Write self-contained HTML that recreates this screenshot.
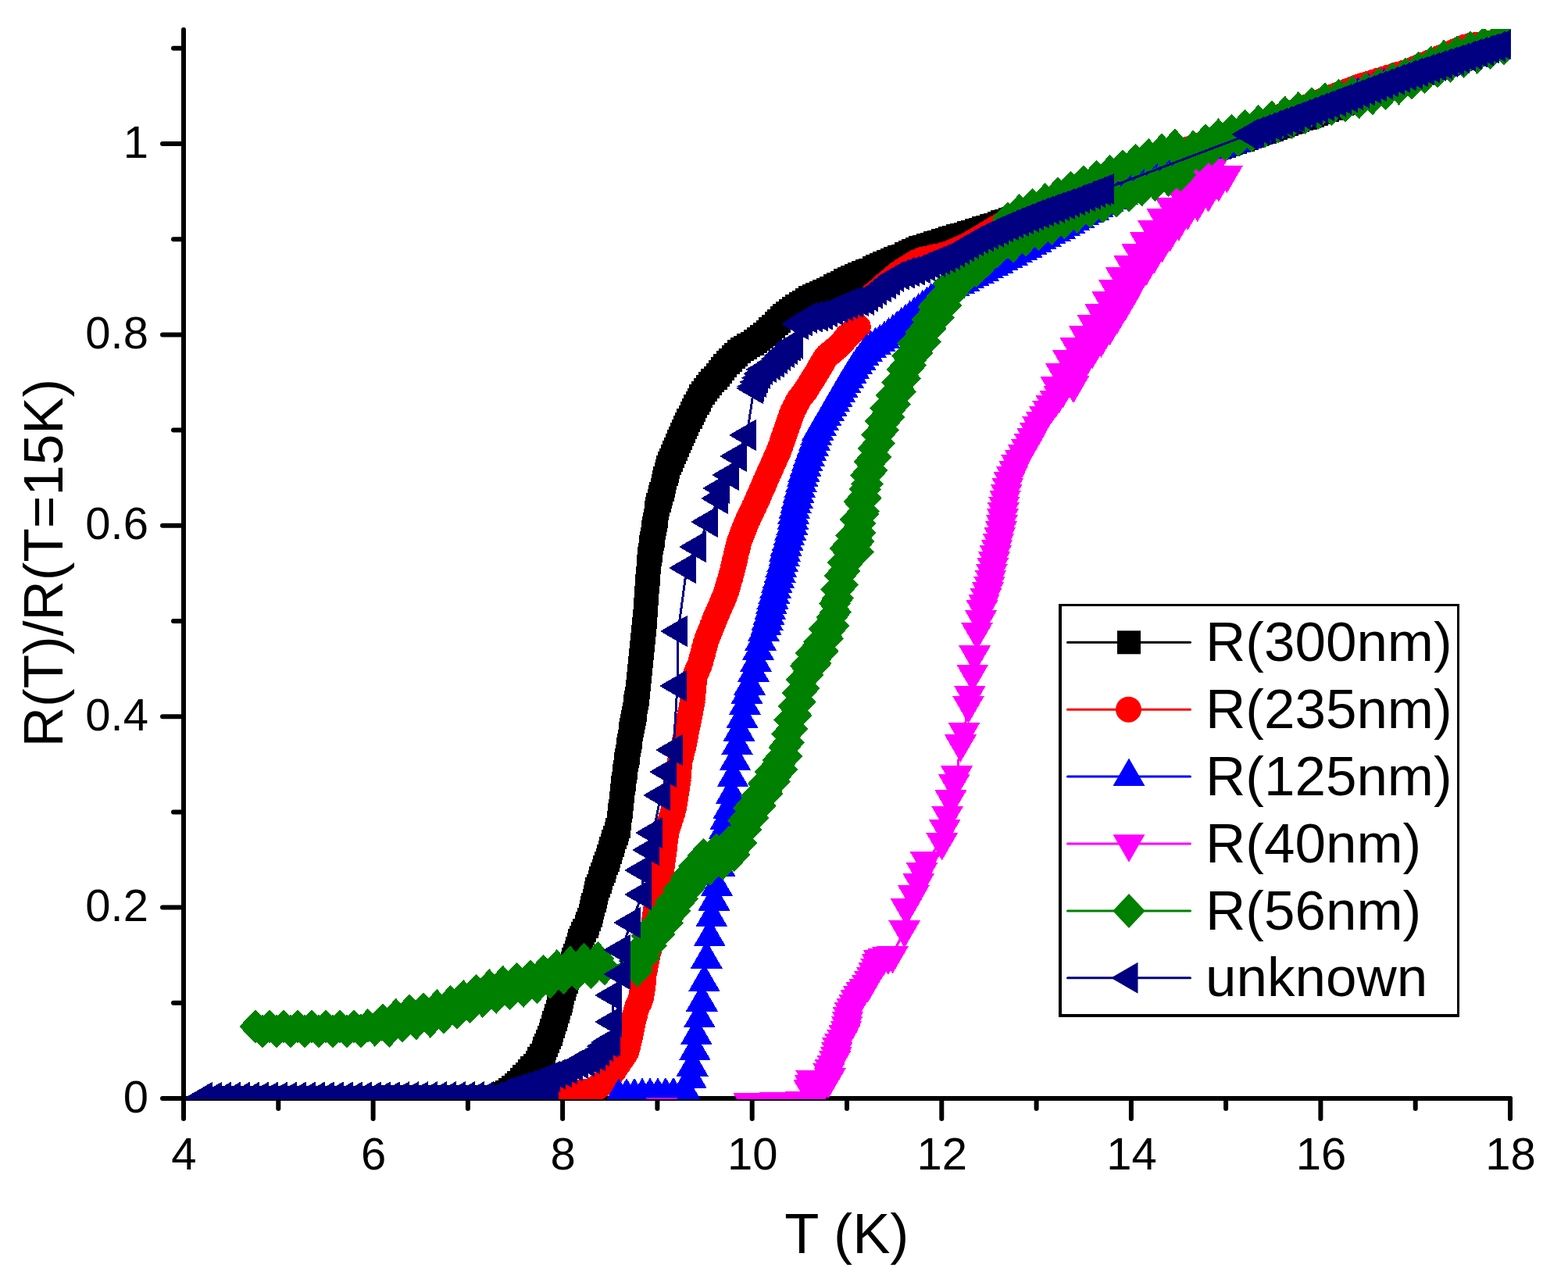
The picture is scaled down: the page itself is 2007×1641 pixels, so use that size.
<!DOCTYPE html><html><head><meta charset="utf-8"><title>R(T)/R(T=15K) vs T</title><style>html,body{margin:0;padding:0;background:#fff;}svg{display:block;}text{font-family:"Liberation Sans",Arial,sans-serif;}</style></head><body>
<svg width="2007" height="1641" viewBox="0 0 2007 1641">
<rect width="2007" height="1641" fill="#fff"/>
<defs><clipPath id="pc"><rect x="235" y="37" width="1698.8" height="1370"/></clipPath></defs>
<g stroke="#000" stroke-width="6" stroke-linecap="round" fill="none">
<line x1="235" y1="38" x2="235" y2="1406"/>
<line x1="235" y1="1406" x2="1933" y2="1406"/>
<line x1="208" y1="1406" x2="235" y2="1406"/>
<line x1="222" y1="1283.8" x2="235" y2="1283.8"/>
<line x1="208" y1="1161.6" x2="235" y2="1161.6"/>
<line x1="222" y1="1039.4" x2="235" y2="1039.4"/>
<line x1="208" y1="917.2" x2="235" y2="917.2"/>
<line x1="222" y1="795" x2="235" y2="795"/>
<line x1="208" y1="672.8" x2="235" y2="672.8"/>
<line x1="222" y1="550.6" x2="235" y2="550.6"/>
<line x1="208" y1="428.4" x2="235" y2="428.4"/>
<line x1="222" y1="306.2" x2="235" y2="306.2"/>
<line x1="208" y1="184" x2="235" y2="184"/>
<line x1="222" y1="61.8" x2="235" y2="61.8"/>
<line x1="235" y1="1406" x2="235" y2="1432"/>
<line x1="356.3" y1="1406" x2="356.3" y2="1419"/>
<line x1="477.6" y1="1406" x2="477.6" y2="1432"/>
<line x1="598.9" y1="1406" x2="598.9" y2="1419"/>
<line x1="720.1" y1="1406" x2="720.1" y2="1432"/>
<line x1="841.4" y1="1406" x2="841.4" y2="1419"/>
<line x1="962.7" y1="1406" x2="962.7" y2="1432"/>
<line x1="1084" y1="1406" x2="1084" y2="1419"/>
<line x1="1205.3" y1="1406" x2="1205.3" y2="1432"/>
<line x1="1326.6" y1="1406" x2="1326.6" y2="1419"/>
<line x1="1447.9" y1="1406" x2="1447.9" y2="1432"/>
<line x1="1569.1" y1="1406" x2="1569.1" y2="1419"/>
<line x1="1690.4" y1="1406" x2="1690.4" y2="1432"/>
<line x1="1811.7" y1="1406" x2="1811.7" y2="1419"/>
<line x1="1933" y1="1406" x2="1933" y2="1432"/>
</g>
<g clip-path="url(#pc)" shape-rendering="crispEdges">
<path d="M290 1405 L302 1405 L314 1404.9 L326 1404.9 L338 1404.9 L350 1404.8 L362 1404.8 L374 1404.8 L386 1404.7 L398 1404.7 L410 1404.7 L422 1404.6 L434 1404.6 L446 1404.6 L458 1404.5 L470 1404.5 L482 1404.5 L494 1404.4 L506 1404.4 L518 1404.3 L530 1404.3 L542 1404.3 L554 1404.2 L566 1404.2 L578 1404.2 L590 1404.1 L602 1404.1 L614 1404.1 L626 1404 L638 1404 L640 1403 L644.3 1400.4 L648.6 1397.9 L652.9 1395.3 L656.8 1392.3 L660.5 1388.9 L664.2 1385.5 L667.8 1382.1 L671.2 1378.4 L674.6 1374.7 L677.9 1371 L681.3 1367.3 L684.6 1363.6 L687.5 1359.5 L690.2 1355.3 L692.9 1351.1 L695.5 1346.8 L697.4 1342.2 L699.3 1337.6 L701.2 1332.9 L703.1 1328.3 L704.7 1323.6 L706.2 1318.8 L707.7 1314 L709.2 1309.3 L710.7 1304.5 L712.1 1299.7 L713.6 1294.9 L715.1 1290.2 L716.6 1285.4 L717.9 1280.6 L719.2 1275.7 L720.4 1270.9 L721.7 1266.1 L723.2 1261.3 L724.8 1256.6 L726.4 1251.8 L728 1247.1 L729.6 1242.3 L731.1 1237.6 L732.7 1232.8 L734.3 1228.1 L735.9 1223.3 L737.5 1218.6 L739 1213.9 L740.6 1209.1 L742.3 1204.4 L744.3 1199.8 L746.4 1195.3 L748.4 1190.7 L750.5 1186.2 L752.3 1181.5 L753.9 1176.8 L755.6 1172.1 L756.9 1167.3 L758.1 1162.4 L759.4 1157.6 L760.6 1152.7 L761.8 1147.9 L763 1143 L764.3 1138.2 L766 1133.5 L767.7 1128.8 L769.4 1124.1 L771.1 1119.4 L772.7 1114.6 L774.4 1109.9 L776.1 1105.2 L777.8 1100.5 L779.3 1095.8 L780.9 1091 L782.4 1086.2 L783.9 1081.5 L785.4 1076.7 L786.9 1072 L788.5 1067.2 L790 1062.4 L791.5 1057.7 L792.2 1052.7 L792.8 1047.8 L793.4 1042.8 L793.9 1037.8 L794.5 1032.9 L795.1 1027.9 L795.7 1022.9 L796.2 1018 L796.8 1013 L797.4 1008 L798 1003.1 L798.6 998.1 L799.3 993.1 L800 988.2 L800.7 983.2 L801.4 978.3 L802.2 973.3 L802.9 968.4 L803.6 963.5 L804.3 958.5 L805 953.6 L805.7 948.6 L806.5 943.7 L807.2 938.7 L808.1 933.8 L809 928.9 L809.9 924 L810.7 919 L811.6 914.1 L812.5 909.2 L813.4 904.3 L814.2 899.3 L815.1 894.4 L815.6 889.4 L816.1 884.5 L816.6 879.5 L817.1 874.5 L817.6 869.5 L818.1 864.6 L818.6 859.6 L819.1 854.6 L819.6 849.6 L820.1 844.7 L820.6 839.7 L821.2 834.7 L821.7 829.7 L822.2 824.8 L822.7 819.8 L823.2 814.8 L823.7 809.8 L824.2 804.9 L824.7 799.9 L825.2 794.9 L825.5 789.9 L825.9 784.9 L826.2 780 L826.6 775 L827 770 L827.3 765 L827.7 760 L828.1 755 L828.4 750 L828.8 745.1 L829.2 740.1 L829.5 735.1 L829.9 730.1 L830.3 725.1 L830.6 720.1 L831 715.1 L831.8 710.2 L832.5 705.3 L833.3 700.3 L834.1 695.4 L834.8 690.4 L835.6 685.5 L836.4 680.6 L837.2 675.6 L837.9 670.7 L838.7 665.7 L839.5 660.8 L840.2 655.9 L841 650.9 L842.3 646.1 L843.6 641.3 L844.9 636.4 L846.2 631.6 L847.5 626.8 L848.8 621.9 L850.1 617.1 L851.4 612.3 L852.7 607.4 L854 602.6 L855.3 597.8 L856.8 593.1 L858.8 588.5 L860.7 583.8 L862.7 579.2 L864.7 574.6 L866.6 570 L868.6 565.4 L870.5 560.8 L872.5 556.2 L874.6 551.7 L876.9 547.3 L879.1 542.8 L881.3 538.3 L883.6 533.8 L885.8 529.4 L888.1 524.9 L890.3 520.4 L892.5 516 L894.8 511.5 L897 507 L899.7 502.9 L902.9 499 L906.1 495.1 L909.3 491.3 L912.4 487.4 L915.6 483.5 L918.8 479.7 L921.9 475.8 L925.1 471.9 L928.3 468.1 L931.6 464.4 L935.2 460.8 L938.7 457.3 L942.2 453.8 L945.8 450.2 L949.6 447.1 L953.9 444.5 L958.2 442 L962.5 439.5 L966.7 436.7 L970.7 433.7 L974.6 430.6 L978.6 427.6 L982.5 424.5 L986.2 421.1 L989.8 417.7 L993.5 414.3 L997.1 410.8 L1000.8 407.4 L1004.4 404 L1008.4 400.9 L1012.4 397.9 L1016.4 394.9 L1020.3 391.9 L1024.5 389.2 L1028.7 386.5 L1033 383.8 L1037.2 381.1 L1041.5 378.7 L1046.1 376.7 L1050.7 374.8 L1055.3 372.8 L1059.9 370.8 L1064.3 368.5 L1068.8 366.2 L1073.2 363.8 L1077.6 361.5 L1082 359.2 L1086.6 357.2 L1091.2 355.3 L1095.8 353.3 L1100.4 351.3 L1105 349.4 L1109.6 347.4 L1114.2 345.5 L1118.8 343.4 L1123.3 341.3 L1127.9 339.2 L1132.4 337.1 L1137 335 L1141.6 333.1 L1146.2 331.3 L1150.9 329.4 L1155.5 327.5 L1160 325.3 L1164.5 323.1 L1169 320.9 L1173.5 318.7 L1178.2 317 L1182.9 315.6 L1187.7 314.1 L1192.5 312.6 L1197.3 311.2 L1202.1 309.7 L1206.8 308.3 L1211.6 306.8 L1216.4 305.3 L1221.2 303.9 L1226 302.4 L1230.7 300.9 L1235.5 299.5 L1240.3 298 L1245.1 296.5 L1249.9 295.1 L1254.7 293.6 L1259.4 292.2 L1264.2 290.7 L1269 289.2 L1273.8 287.7 L1278.5 286.1 L1283.2 284.4 L1287.9 282.8 L1292.6 281.1 L1297.4 279.5 L1302.1 277.8 L1306.8 276.2 L1311.5 274.5 L1316.2 272.9 L1321 271.2 L1325.7 269.5 L1330.4 267.9 L1335.1 266.2 L1339.8 264.6 L1344.6 262.9 L1349.3 261.3 L1354 259.6 L1358.7 258 L1363.4 256.3 L1368.1 254.7 L1372.9 253 L1377.6 251.4 L1382.3 249.7 L1387 248.1 L1391.7 246.4 L1396.5 244.8 L1401.2 243.1 L1405.9 241.4 L1410.6 239.8 L1415.3 238.1 L1420.1 236.5 L1424.8 234.8 L1429.5 233.2 L1434.2 231.5 L1438.9 229.9 L1443.6 228.2 L1448.4 226.6 L1453.1 225 L1457.8 223.4 L1462.6 221.7 L1467.3 220.1 L1472 218.5 L1476.8 216.9 L1481.5 215.3 L1486.3 213.7 L1491 212.1 L1495.7 210.5 L1500.5 208.9 L1505.2 207.3 L1509.9 205.7 L1514.7 204.1 L1519.4 202.5 L1524.1 200.9 L1528.9 199.3 L1533.6 197.7 L1538.4 196.1 L1543.1 194.5 L1547.8 192.9 L1552.6 191.3 L1557.3 189.7 L1562 188.1 L1566.8 186.5 L1571.5 184.9 L1576.2 183.3 L1581 181.7 L1585.7 180.1 L1590.5 178.5 L1595.2 176.9 L1599.9 175.2 L1604.6 173.6 L1609.4 172 L1614.1 170.3 L1618.8 168.7 L1623.5 167.1 L1628.3 165.5 L1633 163.8 L1637.7 162.2 L1642.4 160.6 L1647.2 158.9 L1651.9 157.3 L1656.6 155.7 L1661.4 154 L1666.1 152.4 L1670.8 150.8 L1675.5 149.1 L1680.3 147.5 L1685 145.9 L1689.7 144.2 L1694.4 142.4 L1699 140.6 L1703.7 138.8 L1708.3 136.9 L1713 135.1 L1717.6 133.3 L1722.3 131.5 L1726.9 129.6 L1731.6 127.8 L1736.3 126 L1740.9 124.2 L1745.6 122.3 L1750.2 120.5 L1754.9 118.7 L1759.5 116.9 L1764.2 115 L1768.8 113.2 L1773.5 111.4 L1778.2 109.6 L1782.8 107.7 L1787.5 105.9 L1792.1 104.1 L1796.8 102.3 L1801.4 100.5 L1806.1 98.7 L1810.8 97 L1815.5 95.3 L1820.2 93.6 L1824.9 91.8 L1829.6 90.1 L1834.3 88.4 L1839 86.6 L1843.7 84.9 L1848.4 83.2 L1853 81.5 L1857.7 79.7 L1862.4 78 L1867.1 76.3 L1871.8 74.5 L1876.5 72.8 L1881.2 71.1 L1885.9 69.4 L1890.6 67.6 L1895.3 65.9 L1900 64.2 L1904.7 62.4 L1909.3 60.7 L1914 59 L1918.7 57.3 L1923.4 55.5 L1928.1 53.8 L1932.8 52.1" fill="none" stroke="#000000" stroke-width="3" stroke-linejoin="round"/>
<path fill="#000000" d="M275 1390h30v30h-30zM287 1390h30v30h-30zM299 1389.9h30v30h-30zM311 1389.9h30v30h-30zM323 1389.9h30v30h-30zM335 1389.8h30v30h-30zM347 1389.8h30v30h-30zM359 1389.8h30v30h-30zM371 1389.7h30v30h-30zM383 1389.7h30v30h-30zM395 1389.7h30v30h-30zM407 1389.6h30v30h-30zM419 1389.6h30v30h-30zM431 1389.6h30v30h-30zM443 1389.5h30v30h-30zM455 1389.5h30v30h-30zM467 1389.5h30v30h-30zM479 1389.4h30v30h-30zM491 1389.4h30v30h-30zM503 1389.3h30v30h-30zM515 1389.3h30v30h-30zM527 1389.3h30v30h-30zM539 1389.2h30v30h-30zM551 1389.2h30v30h-30zM563 1389.2h30v30h-30zM575 1389.1h30v30h-30zM587 1389.1h30v30h-30zM599 1389.1h30v30h-30zM611 1389h30v30h-30zM623 1389h30v30h-30zM625 1388h30v30h-30zM629.3 1385.4h30v30h-30zM633.6 1382.9h30v30h-30zM637.9 1380.3h30v30h-30zM641.8 1377.3h30v30h-30zM645.5 1373.9h30v30h-30zM649.2 1370.5h30v30h-30zM652.8 1367.1h30v30h-30zM656.2 1363.4h30v30h-30zM659.6 1359.7h30v30h-30zM662.9 1356h30v30h-30zM666.3 1352.3h30v30h-30zM669.6 1348.6h30v30h-30zM672.5 1344.5h30v30h-30zM675.2 1340.3h30v30h-30zM677.9 1336.1h30v30h-30zM680.5 1331.8h30v30h-30zM682.4 1327.2h30v30h-30zM684.3 1322.6h30v30h-30zM686.2 1317.9h30v30h-30zM688.1 1313.3h30v30h-30zM689.7 1308.6h30v30h-30zM691.2 1303.8h30v30h-30zM692.7 1299h30v30h-30zM694.2 1294.3h30v30h-30zM695.7 1289.5h30v30h-30zM697.1 1284.7h30v30h-30zM698.6 1279.9h30v30h-30zM700.1 1275.2h30v30h-30zM701.6 1270.4h30v30h-30zM702.9 1265.6h30v30h-30zM704.2 1260.7h30v30h-30zM705.4 1255.9h30v30h-30zM706.7 1251.1h30v30h-30zM708.2 1246.3h30v30h-30zM709.8 1241.6h30v30h-30zM711.4 1236.8h30v30h-30zM713 1232.1h30v30h-30zM714.6 1227.3h30v30h-30zM716.1 1222.6h30v30h-30zM717.7 1217.8h30v30h-30zM719.3 1213.1h30v30h-30zM720.9 1208.3h30v30h-30zM722.5 1203.6h30v30h-30zM724 1198.9h30v30h-30zM725.6 1194.1h30v30h-30zM727.3 1189.4h30v30h-30zM729.3 1184.8h30v30h-30zM731.4 1180.3h30v30h-30zM733.4 1175.7h30v30h-30zM735.5 1171.2h30v30h-30zM737.3 1166.5h30v30h-30zM738.9 1161.8h30v30h-30zM740.6 1157.1h30v30h-30zM741.9 1152.3h30v30h-30zM743.1 1147.4h30v30h-30zM744.4 1142.6h30v30h-30zM745.6 1137.7h30v30h-30zM746.8 1132.9h30v30h-30zM748 1128h30v30h-30zM749.3 1123.2h30v30h-30zM751 1118.5h30v30h-30zM752.7 1113.8h30v30h-30zM754.4 1109.1h30v30h-30zM756.1 1104.4h30v30h-30zM757.7 1099.6h30v30h-30zM759.4 1094.9h30v30h-30zM761.1 1090.2h30v30h-30zM762.8 1085.5h30v30h-30zM764.3 1080.8h30v30h-30zM765.9 1076h30v30h-30zM767.4 1071.2h30v30h-30zM768.9 1066.5h30v30h-30zM770.4 1061.7h30v30h-30zM771.9 1057h30v30h-30zM773.5 1052.2h30v30h-30zM775 1047.4h30v30h-30zM776.5 1042.7h30v30h-30zM777.2 1037.7h30v30h-30zM777.8 1032.8h30v30h-30zM778.4 1027.8h30v30h-30zM778.9 1022.8h30v30h-30zM779.5 1017.9h30v30h-30zM780.1 1012.9h30v30h-30zM780.7 1007.9h30v30h-30zM781.2 1003h30v30h-30zM781.8 998h30v30h-30zM782.4 993h30v30h-30zM783 988.1h30v30h-30zM783.6 983.1h30v30h-30zM784.3 978.1h30v30h-30zM785 973.2h30v30h-30zM785.7 968.2h30v30h-30zM786.4 963.3h30v30h-30zM787.2 958.3h30v30h-30zM787.9 953.4h30v30h-30zM788.6 948.5h30v30h-30zM789.3 943.5h30v30h-30zM790 938.6h30v30h-30zM790.7 933.6h30v30h-30zM791.5 928.7h30v30h-30zM792.2 923.7h30v30h-30zM793.1 918.8h30v30h-30zM794 913.9h30v30h-30zM794.9 909h30v30h-30zM795.7 904h30v30h-30zM796.6 899.1h30v30h-30zM797.5 894.2h30v30h-30zM798.4 889.3h30v30h-30zM799.2 884.3h30v30h-30zM800.1 879.4h30v30h-30zM800.6 874.4h30v30h-30zM801.1 869.5h30v30h-30zM801.6 864.5h30v30h-30zM802.1 859.5h30v30h-30zM802.6 854.5h30v30h-30zM803.1 849.6h30v30h-30zM803.6 844.6h30v30h-30zM804.1 839.6h30v30h-30zM804.6 834.6h30v30h-30zM805.1 829.7h30v30h-30zM805.6 824.7h30v30h-30zM806.2 819.7h30v30h-30zM806.7 814.7h30v30h-30zM807.2 809.8h30v30h-30zM807.7 804.8h30v30h-30zM808.2 799.8h30v30h-30zM808.7 794.8h30v30h-30zM809.2 789.9h30v30h-30zM809.7 784.9h30v30h-30zM810.2 779.9h30v30h-30zM810.5 774.9h30v30h-30zM810.9 769.9h30v30h-30zM811.2 765h30v30h-30zM811.6 760h30v30h-30zM812 755h30v30h-30zM812.3 750h30v30h-30zM812.7 745h30v30h-30zM813.1 740h30v30h-30zM813.4 735h30v30h-30zM813.8 730.1h30v30h-30zM814.2 725.1h30v30h-30zM814.5 720.1h30v30h-30zM814.9 715.1h30v30h-30zM815.3 710.1h30v30h-30zM815.6 705.1h30v30h-30zM816 700.1h30v30h-30zM816.8 695.2h30v30h-30zM817.5 690.3h30v30h-30zM818.3 685.3h30v30h-30zM819.1 680.4h30v30h-30zM819.8 675.4h30v30h-30zM820.6 670.5h30v30h-30zM821.4 665.6h30v30h-30zM822.2 660.6h30v30h-30zM822.9 655.7h30v30h-30zM823.7 650.7h30v30h-30zM824.5 645.8h30v30h-30zM825.2 640.9h30v30h-30zM826 635.9h30v30h-30zM827.3 631.1h30v30h-30zM828.6 626.3h30v30h-30zM829.9 621.4h30v30h-30zM831.2 616.6h30v30h-30zM832.5 611.8h30v30h-30zM833.8 606.9h30v30h-30zM835.1 602.1h30v30h-30zM836.4 597.3h30v30h-30zM837.7 592.4h30v30h-30zM839 587.6h30v30h-30zM840.3 582.8h30v30h-30zM841.8 578.1h30v30h-30zM843.8 573.5h30v30h-30zM845.7 568.8h30v30h-30zM847.7 564.2h30v30h-30zM849.7 559.6h30v30h-30zM851.6 555h30v30h-30zM853.6 550.4h30v30h-30zM855.5 545.8h30v30h-30zM857.5 541.2h30v30h-30zM859.6 536.7h30v30h-30zM861.9 532.3h30v30h-30zM864.1 527.8h30v30h-30zM866.3 523.3h30v30h-30zM868.6 518.8h30v30h-30zM870.8 514.4h30v30h-30zM873.1 509.9h30v30h-30zM875.3 505.4h30v30h-30zM877.5 501h30v30h-30zM879.8 496.5h30v30h-30zM882 492h30v30h-30zM884.7 487.9h30v30h-30zM887.9 484h30v30h-30zM891.1 480.1h30v30h-30zM894.3 476.3h30v30h-30zM897.4 472.4h30v30h-30zM900.6 468.5h30v30h-30zM903.8 464.7h30v30h-30zM906.9 460.8h30v30h-30zM910.1 456.9h30v30h-30zM913.3 453.1h30v30h-30zM916.6 449.4h30v30h-30zM920.2 445.8h30v30h-30zM923.7 442.3h30v30h-30zM927.2 438.8h30v30h-30zM930.8 435.2h30v30h-30zM934.6 432.1h30v30h-30zM938.9 429.5h30v30h-30zM943.2 427h30v30h-30zM947.5 424.5h30v30h-30zM951.7 421.7h30v30h-30zM955.7 418.7h30v30h-30zM959.6 415.6h30v30h-30zM963.6 412.6h30v30h-30zM967.5 409.5h30v30h-30zM971.2 406.1h30v30h-30zM974.8 402.7h30v30h-30zM978.5 399.3h30v30h-30zM982.1 395.8h30v30h-30zM985.8 392.4h30v30h-30zM989.4 389h30v30h-30zM993.4 385.9h30v30h-30zM997.4 382.9h30v30h-30zM1001.4 379.9h30v30h-30zM1005.3 376.9h30v30h-30zM1009.5 374.2h30v30h-30zM1013.7 371.5h30v30h-30zM1018 368.8h30v30h-30zM1022.2 366.1h30v30h-30zM1026.5 363.7h30v30h-30zM1031.1 361.7h30v30h-30zM1035.7 359.8h30v30h-30zM1040.3 357.8h30v30h-30zM1044.9 355.8h30v30h-30zM1049.3 353.5h30v30h-30zM1053.8 351.2h30v30h-30zM1058.2 348.8h30v30h-30zM1062.6 346.5h30v30h-30zM1067 344.2h30v30h-30zM1071.6 342.2h30v30h-30zM1076.2 340.3h30v30h-30zM1080.8 338.3h30v30h-30zM1085.4 336.3h30v30h-30zM1090 334.4h30v30h-30zM1094.6 332.4h30v30h-30zM1099.2 330.5h30v30h-30zM1103.8 328.4h30v30h-30zM1108.3 326.3h30v30h-30zM1112.9 324.2h30v30h-30zM1117.4 322.1h30v30h-30zM1122 320h30v30h-30zM1126.6 318.1h30v30h-30zM1131.2 316.3h30v30h-30zM1135.9 314.4h30v30h-30zM1140.5 312.5h30v30h-30zM1145 310.3h30v30h-30zM1149.5 308.1h30v30h-30zM1154 305.9h30v30h-30zM1158.5 303.7h30v30h-30zM1163.2 302h30v30h-30zM1167.9 300.6h30v30h-30zM1172.7 299.1h30v30h-30zM1177.5 297.6h30v30h-30zM1182.3 296.2h30v30h-30zM1187.1 294.7h30v30h-30zM1191.8 293.3h30v30h-30zM1196.6 291.8h30v30h-30zM1201.4 290.3h30v30h-30zM1206.2 288.9h30v30h-30zM1211 287.4h30v30h-30zM1215.7 285.9h30v30h-30zM1220.5 284.5h30v30h-30zM1225.3 283h30v30h-30zM1230.1 281.5h30v30h-30zM1234.9 280.1h30v30h-30zM1239.7 278.6h30v30h-30zM1244.4 277.2h30v30h-30zM1249.2 275.7h30v30h-30zM1254 274.2h30v30h-30zM1258.8 272.7h30v30h-30zM1263.5 271.1h30v30h-30zM1268.2 269.4h30v30h-30zM1272.9 267.8h30v30h-30zM1277.6 266.1h30v30h-30zM1282.4 264.5h30v30h-30zM1287.1 262.8h30v30h-30zM1291.8 261.2h30v30h-30zM1296.5 259.5h30v30h-30zM1301.2 257.9h30v30h-30zM1306 256.2h30v30h-30zM1310.7 254.5h30v30h-30zM1315.4 252.9h30v30h-30zM1320.1 251.2h30v30h-30zM1324.8 249.6h30v30h-30zM1329.6 247.9h30v30h-30zM1334.3 246.3h30v30h-30zM1339 244.6h30v30h-30zM1343.7 243h30v30h-30zM1348.4 241.3h30v30h-30zM1353.1 239.7h30v30h-30zM1357.9 238h30v30h-30zM1362.6 236.4h30v30h-30zM1367.3 234.7h30v30h-30zM1372 233.1h30v30h-30zM1376.7 231.4h30v30h-30zM1381.5 229.8h30v30h-30zM1386.2 228.1h30v30h-30zM1390.9 226.4h30v30h-30zM1395.6 224.8h30v30h-30zM1400.3 223.1h30v30h-30zM1405.1 221.5h30v30h-30zM1409.8 219.8h30v30h-30zM1414.5 218.2h30v30h-30zM1419.2 216.5h30v30h-30zM1423.9 214.9h30v30h-30zM1428.6 213.2h30v30h-30zM1433.4 211.6h30v30h-30zM1438.1 210h30v30h-30zM1442.8 208.4h30v30h-30zM1447.6 206.7h30v30h-30zM1452.3 205.1h30v30h-30zM1457 203.5h30v30h-30zM1461.8 201.9h30v30h-30zM1466.5 200.3h30v30h-30zM1471.3 198.7h30v30h-30zM1476 197.1h30v30h-30zM1480.7 195.5h30v30h-30zM1485.5 193.9h30v30h-30zM1490.2 192.3h30v30h-30zM1494.9 190.7h30v30h-30zM1499.7 189.1h30v30h-30zM1504.4 187.5h30v30h-30zM1509.1 185.9h30v30h-30zM1513.9 184.3h30v30h-30zM1518.6 182.7h30v30h-30zM1523.4 181.1h30v30h-30zM1528.1 179.5h30v30h-30zM1532.8 177.9h30v30h-30zM1537.6 176.3h30v30h-30zM1542.3 174.7h30v30h-30zM1547 173.1h30v30h-30zM1551.8 171.5h30v30h-30zM1556.5 169.9h30v30h-30zM1561.2 168.3h30v30h-30zM1566 166.7h30v30h-30zM1570.7 165.1h30v30h-30zM1575.5 163.5h30v30h-30zM1580.2 161.9h30v30h-30zM1584.9 160.2h30v30h-30zM1589.6 158.6h30v30h-30zM1594.4 157h30v30h-30zM1599.1 155.3h30v30h-30zM1603.8 153.7h30v30h-30zM1608.5 152.1h30v30h-30zM1613.3 150.5h30v30h-30zM1618 148.8h30v30h-30zM1622.7 147.2h30v30h-30zM1627.4 145.6h30v30h-30zM1632.2 143.9h30v30h-30zM1636.9 142.3h30v30h-30zM1641.6 140.7h30v30h-30zM1646.4 139h30v30h-30zM1651.1 137.4h30v30h-30zM1655.8 135.8h30v30h-30zM1660.5 134.1h30v30h-30zM1665.3 132.5h30v30h-30zM1670 130.9h30v30h-30zM1674.7 129.2h30v30h-30zM1679.4 127.4h30v30h-30zM1684 125.6h30v30h-30zM1688.7 123.8h30v30h-30zM1693.3 121.9h30v30h-30zM1698 120.1h30v30h-30zM1702.6 118.3h30v30h-30zM1707.3 116.5h30v30h-30zM1711.9 114.6h30v30h-30zM1716.6 112.8h30v30h-30zM1721.3 111h30v30h-30zM1725.9 109.2h30v30h-30zM1730.6 107.3h30v30h-30zM1735.2 105.5h30v30h-30zM1739.9 103.7h30v30h-30zM1744.5 101.9h30v30h-30zM1749.2 100h30v30h-30zM1753.8 98.2h30v30h-30zM1758.5 96.4h30v30h-30zM1763.2 94.6h30v30h-30zM1767.8 92.7h30v30h-30zM1772.5 90.9h30v30h-30zM1777.1 89.1h30v30h-30zM1781.8 87.3h30v30h-30zM1786.4 85.5h30v30h-30zM1791.1 83.7h30v30h-30zM1795.8 82h30v30h-30zM1800.5 80.3h30v30h-30zM1805.2 78.6h30v30h-30zM1809.9 76.8h30v30h-30zM1814.6 75.1h30v30h-30zM1819.3 73.4h30v30h-30zM1824 71.6h30v30h-30zM1828.7 69.9h30v30h-30zM1833.4 68.2h30v30h-30zM1838 66.5h30v30h-30zM1842.7 64.7h30v30h-30zM1847.4 63h30v30h-30zM1852.1 61.3h30v30h-30zM1856.8 59.5h30v30h-30zM1861.5 57.8h30v30h-30zM1866.2 56.1h30v30h-30zM1870.9 54.4h30v30h-30zM1875.6 52.6h30v30h-30zM1880.3 50.9h30v30h-30zM1885 49.2h30v30h-30zM1889.7 47.4h30v30h-30zM1894.3 45.7h30v30h-30zM1899 44h30v30h-30zM1903.7 42.3h30v30h-30zM1908.4 40.5h30v30h-30zM1913.1 38.8h30v30h-30zM1917.8 37.1h30v30h-30z"/>
<path d="M290 1407 L302 1407 L314 1406.9 L326 1406.9 L338 1406.9 L350 1406.9 L362 1406.8 L374 1406.8 L386 1406.8 L398 1406.7 L410 1406.7 L422 1406.7 L434 1406.6 L446 1406.6 L458 1406.6 L470 1406.6 L482 1406.5 L494 1406.5 L506 1406.5 L518 1406.4 L530 1406.4 L542 1406.4 L554 1406.4 L566 1406.3 L578 1406.3 L590 1406.3 L602 1406.2 L614 1406.2 L626 1406.2 L638 1406.2 L650 1406.1 L662 1406.1 L674 1406.1 L686 1406 L698 1406 L709.7 1403.6 L712 1400 L718 1399.6 L724 1399.1 L730 1398.7 L735.9 1398.3 L741.9 1397.9 L747.9 1397.5 L753.9 1397.2 L759.4 1395.3 L764.3 1391.9 L769.3 1388.5 L773.6 1384.4 L777.8 1380.2 L781.8 1375.7 L785.6 1371 L788.9 1366 L792.2 1361 L795.5 1356 L798.9 1351.1 L802 1346 L803.4 1340.1 L804.9 1334.3 L806.3 1328.5 L807.5 1322.6 L808.7 1316.7 L809.9 1310.9 L811.2 1305 L812.7 1299.2 L814.2 1293.4 L816.1 1287.7 L818.8 1282.4 L820.6 1276.7 L821.5 1270.8 L822.5 1264.9 L823.2 1258.9 L823.6 1252.9 L824.2 1247 L825.4 1241.1 L826.6 1235.2 L827.8 1229.3 L829.1 1223.5 L830.4 1217.6 L831.6 1211.7 L832.8 1205.8 L834 1200 L835.2 1194.1 L836.2 1188.2 L837 1182.2 L837.8 1176.3 L838.6 1170.3 L839.4 1164.4 L840.2 1158.4 L841.1 1152.5 L841.9 1146.6 L842.8 1140.6 L843.6 1134.7 L844.5 1128.7 L845.3 1122.8 L846.2 1116.9 L847.1 1110.9 L848 1105 L848.8 1099.1 L849.6 1093.1 L850.3 1087.2 L851 1081.2 L851.8 1075.2 L852.5 1069.3 L853.5 1063.4 L855.4 1057.7 L857.2 1052 L859 1046.3 L860.9 1040.6 L862.4 1034.8 L863.3 1028.8 L864.3 1022.9 L865.2 1017 L866.2 1011.1 L867.1 1005.1 L868.1 999.2 L868.5 993.2 L869 987.3 L869.5 981.3 L870 975.3 L871.4 969.5 L872.8 963.6 L874.3 957.8 L875.6 952 L876.8 946.1 L878 940.2 L879.1 934.3 L880.3 928.4 L881.5 922.6 L882.7 916.7 L883.8 910.8 L885 904.9 L886.1 899 L886.6 893 L887.1 887 L887.7 881.1 L888.2 875.1 L888.7 869.1 L890.2 863.4 L892.6 857.9 L895 852.4 L896.9 846.7 L898.4 840.9 L900 835.1 L901.5 829.3 L903.1 823.5 L904.9 817.8 L907.1 812.2 L909.3 806.7 L911.6 801.1 L913.8 795.5 L916 790 L918.4 784.5 L920.8 778.9 L923.2 773.4 L925.6 767.9 L927.9 762.4 L929.9 756.8 L931.6 751 L933.2 745.2 L934.9 739.5 L936.5 733.7 L938 727.9 L939.4 722 L940.7 716.2 L942.1 710.4 L943.5 704.5 L944.9 698.7 L946.4 692.9 L948.6 687.3 L950.7 681.7 L952.9 676.1 L955 670.5 L957.4 665 L960 659.6 L962.6 654.2 L965.2 648.8 L967.7 643.3 L970.1 637.8 L972.5 632.3 L974.9 626.8 L977.3 621.3 L979.7 615.8 L982.1 610.3 L984.5 604.8 L987 599.4 L989.4 593.9 L991.9 588.4 L994.3 582.9 L996.8 577.5 L998.8 571.8 L1000.8 566.1 L1002.7 560.5 L1004.7 554.8 L1006.7 549.1 L1008.6 543.5 L1010.6 537.8 L1012.6 532.1 L1014.7 526.5 L1017.4 521.2 L1020.1 515.8 L1023.1 510.6 L1026.7 505.9 L1030.4 501.1 L1033.6 496.1 L1036.8 491 L1040 485.9 L1043.2 480.8 L1046.3 475.7 L1049.3 470.5 L1052.3 465.3 L1055.2 460.1 L1058.9 455.4 L1063.5 451.6 L1068.1 447.7 L1072.7 443.9 L1076.9 439.7 L1080.8 435.1 L1084.6 430.4 L1089.1 426.5 L1093.7 422.6 L1098.3 418.7 L1112 382 L1117.3 377.5 L1122.6 372.9 L1128 368.4 L1133.3 363.8 L1138.6 359.3 L1143.9 354.7 L1149.2 350.2 L1155.1 346.4 L1161.1 342.7 L1167 339 L1173 335.4 L1179.4 332.7 L1186.2 331.2 L1193 329.6 L1199.9 328 L1206.7 326.5 L1213.4 324.5 L1219.9 321.9 L1226.3 319.2 L1232.8 316.6 L1238.9 313.2 L1245 309.8 L1251.1 306.3 L1257.1 302.7 L1263.1 299 L1269.1 295.4 L1275 291.7 L1281.1 288.4 L1287.7 285.8 L1294.2 283.2 L1300.7 280.6 L1307.2 278.1 L1313.7 275.5 L1320.2 272.9 L1326.7 270.3 L1333.2 267.7 L1339.7 265.1 L1346.2 262.5 L1352.6 259.6 L1359 256.8 L1365.4 253.9 L1371.7 251 L1378.1 248.2 L1384.5 245.3 L1390.9 242.5 L1397.3 239.6 L1403.7 236.8 L1410.1 233.9 L1416.5 231 L1422.9 228.2 L1429.3 225.3 L1435.6 222.5 L1442 219.6 L1448.4 216.8 L1455 214.4 L1461.6 212 L1468.2 209.7 L1474.8 207.4 L1481.4 205 L1488 202.7 L1494.6 200.3 L1501.2 198 L1507.8 195.7 L1514.4 193.3 L1521 191 L1527.6 188.6 L1534.2 186.3 L1540.8 184 L1547.4 181.6 L1554 179.3 L1560.6 177 L1567.2 174.6 L1573.8 172.3 L1580.4 169.9 L1587 167.6 L1593.6 165.3 L1600.2 162.9 L1606.8 160.6 L1613.4 158.2 L1619.9 155.9 L1626.5 153.6 L1633.1 151.2 L1639.7 148.9 L1646.3 146.6 L1652.9 144.2 L1659.5 141.9 L1666.1 139.4 L1672.6 136.9 L1679.1 134.3 L1685.7 131.8 L1692.2 129.2 L1698.7 126.7 L1705.2 124.2 L1711.7 121.6 L1718.3 119.1 L1724.8 116.5 L1731.3 114 L1737.8 111.5 L1744.5 109.3 L1751.2 107.3 L1757.9 105.2 L1764.6 103.1 L1771.3 101.1 L1777.9 99 L1784.6 97 L1791.3 94.9 L1798 92.8 L1804.7 90.7 L1811.1 87.9 L1817.5 85.1 L1824 82.4 L1830.4 79.6 L1836.8 76.8 L1843.2 74 L1849.7 71.3 L1856.1 68.5 L1862.5 65.7 L1868.9 62.9 L1875.4 60.1 L1882.1 58.5 L1889 57.6 L1896 56.7 L1902.9 55.8 L1909.9 54.9 L1916.8 54.1 L1923.7 53.2 L1930.7 52.3 L1933 52" fill="none" stroke="#FF0000" stroke-width="3" stroke-linejoin="round"/>
<g fill="#FF0000"><circle cx="290" cy="1407" r="16.5"/><circle cx="302" cy="1407" r="16.5"/><circle cx="314" cy="1406.9" r="16.5"/><circle cx="326" cy="1406.9" r="16.5"/><circle cx="338" cy="1406.9" r="16.5"/><circle cx="350" cy="1406.9" r="16.5"/><circle cx="362" cy="1406.8" r="16.5"/><circle cx="374" cy="1406.8" r="16.5"/><circle cx="386" cy="1406.8" r="16.5"/><circle cx="398" cy="1406.7" r="16.5"/><circle cx="410" cy="1406.7" r="16.5"/><circle cx="422" cy="1406.7" r="16.5"/><circle cx="434" cy="1406.6" r="16.5"/><circle cx="446" cy="1406.6" r="16.5"/><circle cx="458" cy="1406.6" r="16.5"/><circle cx="470" cy="1406.6" r="16.5"/><circle cx="482" cy="1406.5" r="16.5"/><circle cx="494" cy="1406.5" r="16.5"/><circle cx="506" cy="1406.5" r="16.5"/><circle cx="518" cy="1406.4" r="16.5"/><circle cx="530" cy="1406.4" r="16.5"/><circle cx="542" cy="1406.4" r="16.5"/><circle cx="554" cy="1406.4" r="16.5"/><circle cx="566" cy="1406.3" r="16.5"/><circle cx="578" cy="1406.3" r="16.5"/><circle cx="590" cy="1406.3" r="16.5"/><circle cx="602" cy="1406.2" r="16.5"/><circle cx="614" cy="1406.2" r="16.5"/><circle cx="626" cy="1406.2" r="16.5"/><circle cx="638" cy="1406.2" r="16.5"/><circle cx="650" cy="1406.1" r="16.5"/><circle cx="662" cy="1406.1" r="16.5"/><circle cx="674" cy="1406.1" r="16.5"/><circle cx="686" cy="1406" r="16.5"/><circle cx="698" cy="1406" r="16.5"/><circle cx="709.7" cy="1403.6" r="16.5"/><circle cx="712" cy="1400" r="16.5"/><circle cx="718" cy="1399.6" r="16.5"/><circle cx="724" cy="1399.1" r="16.5"/><circle cx="730" cy="1398.7" r="16.5"/><circle cx="735.9" cy="1398.3" r="16.5"/><circle cx="741.9" cy="1397.9" r="16.5"/><circle cx="747.9" cy="1397.5" r="16.5"/><circle cx="753.9" cy="1397.2" r="16.5"/><circle cx="759.4" cy="1395.3" r="16.5"/><circle cx="764.3" cy="1391.9" r="16.5"/><circle cx="769.3" cy="1388.5" r="16.5"/><circle cx="773.6" cy="1384.4" r="16.5"/><circle cx="777.8" cy="1380.2" r="16.5"/><circle cx="781.8" cy="1375.7" r="16.5"/><circle cx="785.6" cy="1371" r="16.5"/><circle cx="788.9" cy="1366" r="16.5"/><circle cx="792.2" cy="1361" r="16.5"/><circle cx="795.5" cy="1356" r="16.5"/><circle cx="798.9" cy="1351.1" r="16.5"/><circle cx="802" cy="1346" r="16.5"/><circle cx="803.4" cy="1340.1" r="16.5"/><circle cx="804.9" cy="1334.3" r="16.5"/><circle cx="806.3" cy="1328.5" r="16.5"/><circle cx="807.5" cy="1322.6" r="16.5"/><circle cx="808.7" cy="1316.7" r="16.5"/><circle cx="809.9" cy="1310.9" r="16.5"/><circle cx="811.2" cy="1305" r="16.5"/><circle cx="812.7" cy="1299.2" r="16.5"/><circle cx="814.2" cy="1293.4" r="16.5"/><circle cx="816.1" cy="1287.7" r="16.5"/><circle cx="818.8" cy="1282.4" r="16.5"/><circle cx="820.6" cy="1276.7" r="16.5"/><circle cx="821.5" cy="1270.8" r="16.5"/><circle cx="822.5" cy="1264.9" r="16.5"/><circle cx="823.2" cy="1258.9" r="16.5"/><circle cx="823.6" cy="1252.9" r="16.5"/><circle cx="824.2" cy="1247" r="16.5"/><circle cx="825.4" cy="1241.1" r="16.5"/><circle cx="826.6" cy="1235.2" r="16.5"/><circle cx="827.8" cy="1229.3" r="16.5"/><circle cx="829.1" cy="1223.5" r="16.5"/><circle cx="830.4" cy="1217.6" r="16.5"/><circle cx="831.6" cy="1211.7" r="16.5"/><circle cx="832.8" cy="1205.8" r="16.5"/><circle cx="834" cy="1200" r="16.5"/><circle cx="835.2" cy="1194.1" r="16.5"/><circle cx="836.2" cy="1188.2" r="16.5"/><circle cx="837" cy="1182.2" r="16.5"/><circle cx="837.8" cy="1176.3" r="16.5"/><circle cx="838.6" cy="1170.3" r="16.5"/><circle cx="839.4" cy="1164.4" r="16.5"/><circle cx="840.2" cy="1158.4" r="16.5"/><circle cx="841.1" cy="1152.5" r="16.5"/><circle cx="841.9" cy="1146.6" r="16.5"/><circle cx="842.8" cy="1140.6" r="16.5"/><circle cx="843.6" cy="1134.7" r="16.5"/><circle cx="844.5" cy="1128.7" r="16.5"/><circle cx="845.3" cy="1122.8" r="16.5"/><circle cx="846.2" cy="1116.9" r="16.5"/><circle cx="847.1" cy="1110.9" r="16.5"/><circle cx="848" cy="1105" r="16.5"/><circle cx="848.8" cy="1099.1" r="16.5"/><circle cx="849.6" cy="1093.1" r="16.5"/><circle cx="850.3" cy="1087.2" r="16.5"/><circle cx="851" cy="1081.2" r="16.5"/><circle cx="851.8" cy="1075.2" r="16.5"/><circle cx="852.5" cy="1069.3" r="16.5"/><circle cx="853.5" cy="1063.4" r="16.5"/><circle cx="855.4" cy="1057.7" r="16.5"/><circle cx="857.2" cy="1052" r="16.5"/><circle cx="859" cy="1046.3" r="16.5"/><circle cx="860.9" cy="1040.6" r="16.5"/><circle cx="862.4" cy="1034.8" r="16.5"/><circle cx="863.3" cy="1028.8" r="16.5"/><circle cx="864.3" cy="1022.9" r="16.5"/><circle cx="865.2" cy="1017" r="16.5"/><circle cx="866.2" cy="1011.1" r="16.5"/><circle cx="867.1" cy="1005.1" r="16.5"/><circle cx="868.1" cy="999.2" r="16.5"/><circle cx="868.5" cy="993.2" r="16.5"/><circle cx="869" cy="987.3" r="16.5"/><circle cx="869.5" cy="981.3" r="16.5"/><circle cx="870" cy="975.3" r="16.5"/><circle cx="871.4" cy="969.5" r="16.5"/><circle cx="872.8" cy="963.6" r="16.5"/><circle cx="874.3" cy="957.8" r="16.5"/><circle cx="875.6" cy="952" r="16.5"/><circle cx="876.8" cy="946.1" r="16.5"/><circle cx="878" cy="940.2" r="16.5"/><circle cx="879.1" cy="934.3" r="16.5"/><circle cx="880.3" cy="928.4" r="16.5"/><circle cx="881.5" cy="922.6" r="16.5"/><circle cx="882.7" cy="916.7" r="16.5"/><circle cx="883.8" cy="910.8" r="16.5"/><circle cx="885" cy="904.9" r="16.5"/><circle cx="886.1" cy="899" r="16.5"/><circle cx="886.6" cy="893" r="16.5"/><circle cx="887.1" cy="887" r="16.5"/><circle cx="887.7" cy="881.1" r="16.5"/><circle cx="888.2" cy="875.1" r="16.5"/><circle cx="888.7" cy="869.1" r="16.5"/><circle cx="890.2" cy="863.4" r="16.5"/><circle cx="892.6" cy="857.9" r="16.5"/><circle cx="895" cy="852.4" r="16.5"/><circle cx="896.9" cy="846.7" r="16.5"/><circle cx="898.4" cy="840.9" r="16.5"/><circle cx="900" cy="835.1" r="16.5"/><circle cx="901.5" cy="829.3" r="16.5"/><circle cx="903.1" cy="823.5" r="16.5"/><circle cx="904.9" cy="817.8" r="16.5"/><circle cx="907.1" cy="812.2" r="16.5"/><circle cx="909.3" cy="806.7" r="16.5"/><circle cx="911.6" cy="801.1" r="16.5"/><circle cx="913.8" cy="795.5" r="16.5"/><circle cx="916" cy="790" r="16.5"/><circle cx="918.4" cy="784.5" r="16.5"/><circle cx="920.8" cy="778.9" r="16.5"/><circle cx="923.2" cy="773.4" r="16.5"/><circle cx="925.6" cy="767.9" r="16.5"/><circle cx="927.9" cy="762.4" r="16.5"/><circle cx="929.9" cy="756.8" r="16.5"/><circle cx="931.6" cy="751" r="16.5"/><circle cx="933.2" cy="745.2" r="16.5"/><circle cx="934.9" cy="739.5" r="16.5"/><circle cx="936.5" cy="733.7" r="16.5"/><circle cx="938" cy="727.9" r="16.5"/><circle cx="939.4" cy="722" r="16.5"/><circle cx="940.7" cy="716.2" r="16.5"/><circle cx="942.1" cy="710.4" r="16.5"/><circle cx="943.5" cy="704.5" r="16.5"/><circle cx="944.9" cy="698.7" r="16.5"/><circle cx="946.4" cy="692.9" r="16.5"/><circle cx="948.6" cy="687.3" r="16.5"/><circle cx="950.7" cy="681.7" r="16.5"/><circle cx="952.9" cy="676.1" r="16.5"/><circle cx="955" cy="670.5" r="16.5"/><circle cx="957.4" cy="665" r="16.5"/><circle cx="960" cy="659.6" r="16.5"/><circle cx="962.6" cy="654.2" r="16.5"/><circle cx="965.2" cy="648.8" r="16.5"/><circle cx="967.7" cy="643.3" r="16.5"/><circle cx="970.1" cy="637.8" r="16.5"/><circle cx="972.5" cy="632.3" r="16.5"/><circle cx="974.9" cy="626.8" r="16.5"/><circle cx="977.3" cy="621.3" r="16.5"/><circle cx="979.7" cy="615.8" r="16.5"/><circle cx="982.1" cy="610.3" r="16.5"/><circle cx="984.5" cy="604.8" r="16.5"/><circle cx="987" cy="599.4" r="16.5"/><circle cx="989.4" cy="593.9" r="16.5"/><circle cx="991.9" cy="588.4" r="16.5"/><circle cx="994.3" cy="582.9" r="16.5"/><circle cx="996.8" cy="577.5" r="16.5"/><circle cx="998.8" cy="571.8" r="16.5"/><circle cx="1000.8" cy="566.1" r="16.5"/><circle cx="1002.7" cy="560.5" r="16.5"/><circle cx="1004.7" cy="554.8" r="16.5"/><circle cx="1006.7" cy="549.1" r="16.5"/><circle cx="1008.6" cy="543.5" r="16.5"/><circle cx="1010.6" cy="537.8" r="16.5"/><circle cx="1012.6" cy="532.1" r="16.5"/><circle cx="1014.7" cy="526.5" r="16.5"/><circle cx="1017.4" cy="521.2" r="16.5"/><circle cx="1020.1" cy="515.8" r="16.5"/><circle cx="1023.1" cy="510.6" r="16.5"/><circle cx="1026.7" cy="505.9" r="16.5"/><circle cx="1030.4" cy="501.1" r="16.5"/><circle cx="1033.6" cy="496.1" r="16.5"/><circle cx="1036.8" cy="491" r="16.5"/><circle cx="1040" cy="485.9" r="16.5"/><circle cx="1043.2" cy="480.8" r="16.5"/><circle cx="1046.3" cy="475.7" r="16.5"/><circle cx="1049.3" cy="470.5" r="16.5"/><circle cx="1052.3" cy="465.3" r="16.5"/><circle cx="1055.2" cy="460.1" r="16.5"/><circle cx="1058.9" cy="455.4" r="16.5"/><circle cx="1063.5" cy="451.6" r="16.5"/><circle cx="1068.1" cy="447.7" r="16.5"/><circle cx="1072.7" cy="443.9" r="16.5"/><circle cx="1076.9" cy="439.7" r="16.5"/><circle cx="1080.8" cy="435.1" r="16.5"/><circle cx="1084.6" cy="430.4" r="16.5"/><circle cx="1089.1" cy="426.5" r="16.5"/><circle cx="1093.7" cy="422.6" r="16.5"/><circle cx="1098.3" cy="418.7" r="16.5"/><circle cx="1112" cy="382" r="16.5"/><circle cx="1117.3" cy="377.5" r="16.5"/><circle cx="1122.6" cy="372.9" r="16.5"/><circle cx="1128" cy="368.4" r="16.5"/><circle cx="1133.3" cy="363.8" r="16.5"/><circle cx="1138.6" cy="359.3" r="16.5"/><circle cx="1143.9" cy="354.7" r="16.5"/><circle cx="1149.2" cy="350.2" r="16.5"/><circle cx="1155.1" cy="346.4" r="16.5"/><circle cx="1161.1" cy="342.7" r="16.5"/><circle cx="1167" cy="339" r="16.5"/><circle cx="1173" cy="335.4" r="16.5"/><circle cx="1179.4" cy="332.7" r="16.5"/><circle cx="1186.2" cy="331.2" r="16.5"/><circle cx="1193" cy="329.6" r="16.5"/><circle cx="1199.9" cy="328" r="16.5"/><circle cx="1206.7" cy="326.5" r="16.5"/><circle cx="1213.4" cy="324.5" r="16.5"/><circle cx="1219.9" cy="321.9" r="16.5"/><circle cx="1226.3" cy="319.2" r="16.5"/><circle cx="1232.8" cy="316.6" r="16.5"/><circle cx="1238.9" cy="313.2" r="16.5"/><circle cx="1245" cy="309.8" r="16.5"/><circle cx="1251.1" cy="306.3" r="16.5"/><circle cx="1257.1" cy="302.7" r="16.5"/><circle cx="1263.1" cy="299" r="16.5"/><circle cx="1269.1" cy="295.4" r="16.5"/><circle cx="1275" cy="291.7" r="16.5"/><circle cx="1281.1" cy="288.4" r="16.5"/><circle cx="1287.7" cy="285.8" r="16.5"/><circle cx="1294.2" cy="283.2" r="16.5"/><circle cx="1300.7" cy="280.6" r="16.5"/><circle cx="1307.2" cy="278.1" r="16.5"/><circle cx="1313.7" cy="275.5" r="16.5"/><circle cx="1320.2" cy="272.9" r="16.5"/><circle cx="1326.7" cy="270.3" r="16.5"/><circle cx="1333.2" cy="267.7" r="16.5"/><circle cx="1339.7" cy="265.1" r="16.5"/><circle cx="1346.2" cy="262.5" r="16.5"/><circle cx="1352.6" cy="259.6" r="16.5"/><circle cx="1359" cy="256.8" r="16.5"/><circle cx="1365.4" cy="253.9" r="16.5"/><circle cx="1371.7" cy="251" r="16.5"/><circle cx="1378.1" cy="248.2" r="16.5"/><circle cx="1384.5" cy="245.3" r="16.5"/><circle cx="1390.9" cy="242.5" r="16.5"/><circle cx="1397.3" cy="239.6" r="16.5"/><circle cx="1403.7" cy="236.8" r="16.5"/><circle cx="1410.1" cy="233.9" r="16.5"/><circle cx="1416.5" cy="231" r="16.5"/><circle cx="1422.9" cy="228.2" r="16.5"/><circle cx="1429.3" cy="225.3" r="16.5"/><circle cx="1435.6" cy="222.5" r="16.5"/><circle cx="1442" cy="219.6" r="16.5"/><circle cx="1448.4" cy="216.8" r="16.5"/><circle cx="1455" cy="214.4" r="16.5"/><circle cx="1461.6" cy="212" r="16.5"/><circle cx="1468.2" cy="209.7" r="16.5"/><circle cx="1474.8" cy="207.4" r="16.5"/><circle cx="1481.4" cy="205" r="16.5"/><circle cx="1488" cy="202.7" r="16.5"/><circle cx="1494.6" cy="200.3" r="16.5"/><circle cx="1501.2" cy="198" r="16.5"/><circle cx="1507.8" cy="195.7" r="16.5"/><circle cx="1514.4" cy="193.3" r="16.5"/><circle cx="1521" cy="191" r="16.5"/><circle cx="1527.6" cy="188.6" r="16.5"/><circle cx="1534.2" cy="186.3" r="16.5"/><circle cx="1540.8" cy="184" r="16.5"/><circle cx="1547.4" cy="181.6" r="16.5"/><circle cx="1554" cy="179.3" r="16.5"/><circle cx="1560.6" cy="177" r="16.5"/><circle cx="1567.2" cy="174.6" r="16.5"/><circle cx="1573.8" cy="172.3" r="16.5"/><circle cx="1580.4" cy="169.9" r="16.5"/><circle cx="1587" cy="167.6" r="16.5"/><circle cx="1593.6" cy="165.3" r="16.5"/><circle cx="1600.2" cy="162.9" r="16.5"/><circle cx="1606.8" cy="160.6" r="16.5"/><circle cx="1613.4" cy="158.2" r="16.5"/><circle cx="1619.9" cy="155.9" r="16.5"/><circle cx="1626.5" cy="153.6" r="16.5"/><circle cx="1633.1" cy="151.2" r="16.5"/><circle cx="1639.7" cy="148.9" r="16.5"/><circle cx="1646.3" cy="146.6" r="16.5"/><circle cx="1652.9" cy="144.2" r="16.5"/><circle cx="1659.5" cy="141.9" r="16.5"/><circle cx="1666.1" cy="139.4" r="16.5"/><circle cx="1672.6" cy="136.9" r="16.5"/><circle cx="1679.1" cy="134.3" r="16.5"/><circle cx="1685.7" cy="131.8" r="16.5"/><circle cx="1692.2" cy="129.2" r="16.5"/><circle cx="1698.7" cy="126.7" r="16.5"/><circle cx="1705.2" cy="124.2" r="16.5"/><circle cx="1711.7" cy="121.6" r="16.5"/><circle cx="1718.3" cy="119.1" r="16.5"/><circle cx="1724.8" cy="116.5" r="16.5"/><circle cx="1731.3" cy="114" r="16.5"/><circle cx="1737.8" cy="111.5" r="16.5"/><circle cx="1744.5" cy="109.3" r="16.5"/><circle cx="1751.2" cy="107.3" r="16.5"/><circle cx="1757.9" cy="105.2" r="16.5"/><circle cx="1764.6" cy="103.1" r="16.5"/><circle cx="1771.3" cy="101.1" r="16.5"/><circle cx="1777.9" cy="99" r="16.5"/><circle cx="1784.6" cy="97" r="16.5"/><circle cx="1791.3" cy="94.9" r="16.5"/><circle cx="1798" cy="92.8" r="16.5"/><circle cx="1804.7" cy="90.7" r="16.5"/><circle cx="1811.1" cy="87.9" r="16.5"/><circle cx="1817.5" cy="85.1" r="16.5"/><circle cx="1824" cy="82.4" r="16.5"/><circle cx="1830.4" cy="79.6" r="16.5"/><circle cx="1836.8" cy="76.8" r="16.5"/><circle cx="1843.2" cy="74" r="16.5"/><circle cx="1849.7" cy="71.3" r="16.5"/><circle cx="1856.1" cy="68.5" r="16.5"/><circle cx="1862.5" cy="65.7" r="16.5"/><circle cx="1868.9" cy="62.9" r="16.5"/><circle cx="1875.4" cy="60.1" r="16.5"/><circle cx="1882.1" cy="58.5" r="16.5"/><circle cx="1889" cy="57.6" r="16.5"/><circle cx="1896" cy="56.7" r="16.5"/><circle cx="1902.9" cy="55.8" r="16.5"/><circle cx="1909.9" cy="54.9" r="16.5"/><circle cx="1916.8" cy="54.1" r="16.5"/><circle cx="1923.7" cy="53.2" r="16.5"/><circle cx="1930.7" cy="52.3" r="16.5"/><circle cx="1933" cy="52" r="16.5"/></g>
<path d="M792 1404 L802 1403.8 L812 1403.5 L822 1403.3 L832 1403.1 L842 1402.9 L852 1402.6 L862 1402.4 L872 1402.2 L880 1402 L884.4 1381.4 L886.2 1365.8 L889.4 1345.5 L891.3 1325.5 L895.3 1303.6 L898.4 1282.7 L901.4 1257.5 L904.3 1227.9 L908.3 1199.4 L910.8 1174.4 L914 1153.8 L917.5 1135 L921 1110 L925 1085 L927.5 1062 L929 1050 L933 1036 L936 1017.5 L938 995.6 L941 974.6 L943.5 954.5 L946 937 L950 920 L953.5 903 L956 889 L959.5 878 L964.5 861 L967.6 848 L970.5 833 L973.6 821 L977.4 809 L980.5 801.6 L982.2 794.8 L984 788 L985.7 781.3 L987.4 774.5 L989 767.7 L990.8 760.9 L992.5 754.1 L994.2 747.3 L996.4 740.7 L998.2 733.9 L999.7 727.1 L1001.6 720.3 L1003.6 713.6 L1004.5 706.7 L1006.1 699.9 L1008.1 693.2 L1009.9 686.4 L1011.7 679.7 L1013.8 673 L1014.9 666.1 L1015.6 659.1 L1016.8 652.3 L1018.6 645.5 L1020.3 638.7 L1022 631.9 L1023.7 625.1 L1025.4 618.3 L1027.1 611.5 L1028.9 604.8 L1031 598.1 L1033.2 591.5 L1035.3 584.8 L1037.7 578.2 L1040.2 571.7 L1042.5 565 L1044.6 558.4 L1046.8 551.7 L1050.2 545.7 L1053.7 539.6 L1057.2 533.5 L1060.7 527.5 L1064.2 521.4 L1067.7 515.3 L1071.2 509.3 L1074.7 503.2 L1078.2 497.2 L1081.9 491.2 L1085.6 485.3 L1089.3 479.3 L1092.9 473.3 L1096.8 467.5 L1101 461.9 L1105.2 456.3 L1109.4 450.7 L1114.9 446.4 L1120.6 442.3 L1126.3 438.2 L1131.9 434.1 L1137.4 429.8 L1142.9 425.4 L1148.3 421 L1153.7 416.6 L1159.2 412.2 L1164.6 407.8 L1170.1 403.3 L1175.5 398.9 L1180.9 394.5 L1186.4 390.1 L1191.8 385.7 L1197.2 381.3 L1202.7 376.9 L1208.6 373.2 L1214.8 370.1 L1221.1 367 L1227.4 363.8 L1233.6 360.7 L1239.9 357.6 L1246.1 354.4 L1252.4 351.3 L1258.5 347.9 L1264.6 344.5 L1270.8 341.1 L1276.9 337.7 L1283 334.4 L1289.2 331.1 L1295.4 327.7 L1301.5 324.4 L1307.7 321.1 L1313.8 317.8 L1320 314.4 L1326.1 311.1 L1332.2 307.6 L1338.3 304.1 L1344.4 300.6 L1350.4 297.2 L1356.5 293.7 L1362.6 290.2 L1368.7 286.8 L1374.8 283.4 L1380.9 280 L1387.1 276.6 L1393.2 273.2 L1399.3 269.8 L1405.4 266.4 L1411.5 263 L1417.6 259.6 L1423.8 256.3 L1430.1 253.2 L1436.4 250.1 L1442.6 246.9 L1448.9 243.8 L1454.9 240.3 L1460.6 236.1 L1466.2 232 L1471.9 227.9 L1477.8 224.3 L1484.1 221.1 L1490.3 217.9 L1496.6 214.8 L1502.9 211.9 L1509.5 209.4 L1516 206.9 L1522.6 204.4 L1529.1 201.9 L1535.6 199.5 L1542.2 197 L1548.7 194.5 L1555.3 192 L1561.8 189.5 L1568.4 187 L1574.9 184.5 L1581.5 182 L1588 179.6 L1594.5 177.1 L1601.1 174.6 L1607.6 172 L1614.1 169.4 L1620.6 166.8 L1627.1 164.2 L1633.6 161.6 L1640.1 159 L1646.6 156.4 L1653.1 153.8 L1659.6 151.2 L1666.1 148.6 L1672.6 146 L1679.1 143.4 L1685.6 140.8 L1692.1 138.2 L1698.6 135.6 L1705.2 133.2 L1711.8 131 L1718.4 128.8 L1725.1 126.5 L1731.7 124.3 L1738.3 122 L1744.9 119.8 L1751.6 117.5 L1758.2 115.3 L1764.8 113 L1771.5 110.8 L1778.1 108.5 L1784.7 106.3 L1791.3 104 L1798 101.8 L1804.6 99.5 L1811.2 97.3 L1817.9 95 L1824.5 92.8 L1831.1 90.5 L1837.8 88.3 L1844.4 86 L1851 83.8 L1857.6 81.6 L1864.3 79.3 L1870.9 77.1 L1877.5 74.8 L1884.2 72.6 L1890.8 70.3 L1897.4 68.1 L1904 65.8 L1910.7 63.6 L1917.3 61.3 L1923.9 59.1 L1930.6 56.8 L1933 56" fill="none" stroke="#0000FF" stroke-width="3" stroke-linejoin="round"/>
<path fill="#0000FF" d="M792 1380.3L812.5 1415.8L771.5 1415.8zM802 1380.1L822.5 1415.6L781.5 1415.6zM812 1379.8L832.5 1415.3L791.5 1415.3zM822 1379.6L842.5 1415.1L801.5 1415.1zM832 1379.4L852.5 1414.9L811.5 1414.9zM842 1379.2L862.5 1414.7L821.5 1414.7zM852 1378.9L872.5 1414.4L831.5 1414.4zM862 1378.7L882.5 1414.2L841.5 1414.2zM872 1378.5L892.5 1414L851.5 1414zM880 1378.3L900.5 1413.8L859.5 1413.8zM884.4 1357.7L904.9 1393.2L863.9 1393.2zM886.2 1342.1L906.7 1377.6L865.7 1377.6zM889.4 1321.8L909.9 1357.3L868.9 1357.3zM891.3 1301.8L911.8 1337.3L870.8 1337.3zM895.3 1279.9L915.8 1315.4L874.8 1315.4zM898.4 1259L918.9 1294.5L877.9 1294.5zM901.4 1233.8L921.9 1269.3L880.9 1269.3zM904.3 1204.2L924.8 1239.7L883.8 1239.7zM908.3 1175.7L928.8 1211.2L887.8 1211.2zM910.8 1150.7L931.3 1186.2L890.3 1186.2zM914 1130.1L934.5 1165.6L893.5 1165.6zM917.5 1111.3L938 1146.8L897 1146.8zM921 1086.3L941.5 1121.8L900.5 1121.8zM925 1061.3L945.5 1096.8L904.5 1096.8zM927.5 1038.3L948 1073.8L907 1073.8zM929 1026.3L949.5 1061.8L908.5 1061.8zM933 1012.3L953.5 1047.8L912.5 1047.8zM936 993.8L956.5 1029.3L915.5 1029.3zM938 971.9L958.5 1007.4L917.5 1007.4zM941 950.9L961.5 986.4L920.5 986.4zM943.5 930.8L964 966.3L923 966.3zM946 913.3L966.5 948.8L925.5 948.8zM950 896.3L970.5 931.8L929.5 931.8zM953.5 879.3L974 914.8L933 914.8zM956 865.3L976.5 900.8L935.5 900.8zM959.5 854.3L980 889.8L939 889.8zM964.5 837.3L985 872.8L944 872.8zM967.6 824.3L988.1 859.8L947.1 859.8zM970.5 809.3L991 844.8L950 844.8zM973.6 797.3L994.1 832.8L953.1 832.8zM977.4 785.3L997.9 820.8L956.9 820.8zM980.5 777.9L1001 813.4L960 813.4zM982.2 771.1L1002.7 806.6L961.7 806.6zM984 764.3L1004.5 799.8L963.5 799.8zM985.7 757.6L1006.2 793.1L965.2 793.1zM987.4 750.8L1007.9 786.3L966.9 786.3zM989 744L1009.5 779.5L968.5 779.5zM990.8 737.2L1011.3 772.7L970.3 772.7zM992.5 730.4L1013 765.9L972 765.9zM994.2 723.6L1014.7 759.1L973.7 759.1zM996.4 717L1016.9 752.5L975.9 752.5zM998.2 710.2L1018.7 745.7L977.7 745.7zM999.7 703.4L1020.2 738.9L979.2 738.9zM1001.6 696.6L1022.1 732.1L981.1 732.1zM1003.6 689.9L1024.1 725.4L983.1 725.4zM1004.5 683L1025 718.5L984 718.5zM1006.1 676.2L1026.6 711.7L985.6 711.7zM1008.1 669.5L1028.6 705L987.6 705zM1009.9 662.7L1030.4 698.2L989.4 698.2zM1011.7 656L1032.2 691.5L991.2 691.5zM1013.8 649.3L1034.3 684.8L993.3 684.8zM1014.9 642.4L1035.4 677.9L994.4 677.9zM1015.6 635.4L1036.1 670.9L995.1 670.9zM1016.8 628.6L1037.3 664.1L996.3 664.1zM1018.6 621.8L1039.1 657.3L998.1 657.3zM1020.3 615L1040.8 650.5L999.8 650.5zM1022 608.2L1042.5 643.7L1001.5 643.7zM1023.7 601.4L1044.2 636.9L1003.2 636.9zM1025.4 594.6L1045.9 630.1L1004.9 630.1zM1027.1 587.8L1047.6 623.3L1006.6 623.3zM1028.9 581.1L1049.4 616.6L1008.4 616.6zM1031 574.4L1051.5 609.9L1010.5 609.9zM1033.2 567.8L1053.7 603.3L1012.7 603.3zM1035.3 561.1L1055.8 596.6L1014.8 596.6zM1037.7 554.5L1058.2 590L1017.2 590zM1040.2 548L1060.7 583.5L1019.7 583.5zM1042.5 541.3L1063 576.8L1022 576.8zM1044.6 534.7L1065.1 570.2L1024.1 570.2zM1046.8 528L1067.3 563.5L1026.3 563.5zM1050.2 522L1070.7 557.5L1029.7 557.5zM1053.7 515.9L1074.2 551.4L1033.2 551.4zM1057.2 509.8L1077.7 545.3L1036.7 545.3zM1060.7 503.8L1081.2 539.3L1040.2 539.3zM1064.2 497.7L1084.7 533.2L1043.7 533.2zM1067.7 491.6L1088.2 527.1L1047.2 527.1zM1071.2 485.6L1091.7 521.1L1050.7 521.1zM1074.7 479.5L1095.2 515L1054.2 515zM1078.2 473.5L1098.7 509L1057.7 509zM1081.9 467.5L1102.4 503L1061.4 503zM1085.6 461.6L1106.1 497.1L1065.1 497.1zM1089.3 455.6L1109.8 491.1L1068.8 491.1zM1092.9 449.6L1113.4 485.1L1072.4 485.1zM1096.8 443.8L1117.3 479.3L1076.3 479.3zM1101 438.2L1121.5 473.7L1080.5 473.7zM1105.2 432.6L1125.7 468.1L1084.7 468.1zM1109.4 427L1129.9 462.5L1088.9 462.5zM1114.9 422.7L1135.4 458.2L1094.4 458.2zM1120.6 418.6L1141.1 454.1L1100.1 454.1zM1126.3 414.5L1146.8 450L1105.8 450zM1131.9 410.4L1152.4 445.9L1111.4 445.9zM1137.4 406.1L1157.9 441.6L1116.9 441.6zM1142.9 401.7L1163.4 437.2L1122.4 437.2zM1148.3 397.3L1168.8 432.8L1127.8 432.8zM1153.7 392.9L1174.2 428.4L1133.2 428.4zM1159.2 388.5L1179.7 424L1138.7 424zM1164.6 384.1L1185.1 419.6L1144.1 419.6zM1170.1 379.6L1190.6 415.1L1149.6 415.1zM1175.5 375.2L1196 410.7L1155 410.7zM1180.9 370.8L1201.4 406.3L1160.4 406.3zM1186.4 366.4L1206.9 401.9L1165.9 401.9zM1191.8 362L1212.3 397.5L1171.3 397.5zM1197.2 357.6L1217.7 393.1L1176.7 393.1zM1202.7 353.2L1223.2 388.7L1182.2 388.7zM1208.6 349.5L1229.1 385L1188.1 385zM1214.8 346.4L1235.3 381.9L1194.3 381.9zM1221.1 343.3L1241.6 378.8L1200.6 378.8zM1227.4 340.1L1247.9 375.6L1206.9 375.6zM1233.6 337L1254.1 372.5L1213.1 372.5zM1239.9 333.9L1260.4 369.4L1219.4 369.4zM1246.1 330.7L1266.6 366.2L1225.6 366.2zM1252.4 327.6L1272.9 363.1L1231.9 363.1zM1258.5 324.2L1279 359.7L1238 359.7zM1264.6 320.8L1285.1 356.3L1244.1 356.3zM1270.8 317.4L1291.3 352.9L1250.3 352.9zM1276.9 314L1297.4 349.5L1256.4 349.5zM1283 310.7L1303.5 346.2L1262.5 346.2zM1289.2 307.4L1309.7 342.9L1268.7 342.9zM1295.4 304L1315.9 339.5L1274.9 339.5zM1301.5 300.7L1322 336.2L1281 336.2zM1307.7 297.4L1328.2 332.9L1287.2 332.9zM1313.8 294.1L1334.3 329.6L1293.3 329.6zM1320 290.7L1340.5 326.2L1299.5 326.2zM1326.1 287.4L1346.6 322.9L1305.6 322.9zM1332.2 283.9L1352.7 319.4L1311.7 319.4zM1338.3 280.4L1358.8 315.9L1317.8 315.9zM1344.4 276.9L1364.9 312.4L1323.9 312.4zM1350.4 273.5L1370.9 309L1329.9 309zM1356.5 270L1377 305.5L1336 305.5zM1362.6 266.5L1383.1 302L1342.1 302zM1368.7 263.1L1389.2 298.6L1348.2 298.6zM1374.8 259.7L1395.3 295.2L1354.3 295.2zM1380.9 256.3L1401.4 291.8L1360.4 291.8zM1387.1 252.9L1407.6 288.4L1366.6 288.4zM1393.2 249.5L1413.7 285L1372.7 285zM1399.3 246.1L1419.8 281.6L1378.8 281.6zM1405.4 242.7L1425.9 278.2L1384.9 278.2zM1411.5 239.3L1432 274.8L1391 274.8zM1417.6 235.9L1438.1 271.4L1397.1 271.4zM1423.8 232.6L1444.3 268.1L1403.3 268.1zM1430.1 229.5L1450.6 265L1409.6 265zM1436.4 226.4L1456.9 261.9L1415.9 261.9zM1442.6 223.2L1463.1 258.7L1422.1 258.7zM1448.9 220.1L1469.4 255.6L1428.4 255.6zM1454.9 216.6L1475.4 252.1L1434.4 252.1zM1460.6 212.4L1481.1 247.9L1440.1 247.9zM1466.2 208.3L1486.7 243.8L1445.7 243.8zM1471.9 204.2L1492.4 239.7L1451.4 239.7zM1477.8 200.6L1498.3 236.1L1457.3 236.1zM1484.1 197.4L1504.6 232.9L1463.6 232.9zM1490.3 194.2L1510.8 229.7L1469.8 229.7zM1496.6 191.1L1517.1 226.6L1476.1 226.6zM1502.9 188.2L1523.4 223.7L1482.4 223.7zM1509.5 185.7L1530 221.2L1489 221.2zM1516 183.2L1536.5 218.7L1495.5 218.7zM1522.6 180.7L1543.1 216.2L1502.1 216.2zM1529.1 178.2L1549.6 213.7L1508.6 213.7zM1535.6 175.8L1556.1 211.3L1515.1 211.3zM1542.2 173.3L1562.7 208.8L1521.7 208.8zM1548.7 170.8L1569.2 206.3L1528.2 206.3zM1555.3 168.3L1575.8 203.8L1534.8 203.8zM1561.8 165.8L1582.3 201.3L1541.3 201.3zM1568.4 163.3L1588.9 198.8L1547.9 198.8zM1574.9 160.8L1595.4 196.3L1554.4 196.3zM1581.5 158.3L1602 193.8L1561 193.8zM1588 155.9L1608.5 191.4L1567.5 191.4zM1594.5 153.4L1615 188.9L1574 188.9zM1601.1 150.9L1621.6 186.4L1580.6 186.4zM1607.6 148.3L1628.1 183.8L1587.1 183.8zM1614.1 145.7L1634.6 181.2L1593.6 181.2zM1620.6 143.1L1641.1 178.6L1600.1 178.6zM1627.1 140.5L1647.6 176L1606.6 176zM1633.6 137.9L1654.1 173.4L1613.1 173.4zM1640.1 135.3L1660.6 170.8L1619.6 170.8zM1646.6 132.7L1667.1 168.2L1626.1 168.2zM1653.1 130.1L1673.6 165.6L1632.6 165.6zM1659.6 127.5L1680.1 163L1639.1 163zM1666.1 124.9L1686.6 160.4L1645.6 160.4zM1672.6 122.3L1693.1 157.8L1652.1 157.8zM1679.1 119.7L1699.6 155.2L1658.6 155.2zM1685.6 117.1L1706.1 152.6L1665.1 152.6zM1692.1 114.5L1712.6 150L1671.6 150zM1698.6 111.9L1719.1 147.4L1678.1 147.4zM1705.2 109.5L1725.7 145L1684.7 145zM1711.8 107.3L1732.3 142.8L1691.3 142.8zM1718.4 105.1L1738.9 140.6L1697.9 140.6zM1725.1 102.8L1745.6 138.3L1704.6 138.3zM1731.7 100.6L1752.2 136.1L1711.2 136.1zM1738.3 98.3L1758.8 133.8L1717.8 133.8zM1744.9 96.1L1765.4 131.6L1724.4 131.6zM1751.6 93.8L1772.1 129.3L1731.1 129.3zM1758.2 91.6L1778.7 127.1L1737.7 127.1zM1764.8 89.3L1785.3 124.8L1744.3 124.8zM1771.5 87.1L1792 122.6L1751 122.6zM1778.1 84.8L1798.6 120.3L1757.6 120.3zM1784.7 82.6L1805.2 118.1L1764.2 118.1zM1791.3 80.3L1811.8 115.8L1770.8 115.8zM1798 78.1L1818.5 113.6L1777.5 113.6zM1804.6 75.8L1825.1 111.3L1784.1 111.3zM1811.2 73.6L1831.7 109.1L1790.7 109.1zM1817.9 71.3L1838.4 106.8L1797.4 106.8zM1824.5 69.1L1845 104.6L1804 104.6zM1831.1 66.8L1851.6 102.3L1810.6 102.3zM1837.8 64.6L1858.3 100.1L1817.3 100.1zM1844.4 62.3L1864.9 97.8L1823.9 97.8zM1851 60.1L1871.5 95.6L1830.5 95.6zM1857.6 57.9L1878.1 93.4L1837.1 93.4zM1864.3 55.6L1884.8 91.1L1843.8 91.1zM1870.9 53.4L1891.4 88.9L1850.4 88.9zM1877.5 51.1L1898 86.6L1857 86.6zM1884.2 48.9L1904.7 84.4L1863.7 84.4zM1890.8 46.6L1911.3 82.1L1870.3 82.1zM1897.4 44.4L1917.9 79.9L1876.9 79.9zM1904 42.1L1924.5 77.6L1883.5 77.6zM1910.7 39.9L1931.2 75.4L1890.2 75.4zM1917.3 37.6L1937.8 73.1L1896.8 73.1zM1923.9 35.4L1944.4 70.9L1903.4 70.9zM1930.6 33.1L1951.1 68.6L1910.1 68.6zM1933 32.3L1953.5 67.8L1912.5 67.8z"/>
<path d="M847 1416.5 L959 1411 L970 1410.7 L981 1410.4 L992 1410.1 L1003 1409.8 L1014 1409.5 L1025 1409.1 L1030 1409 L1035.8 1393.8 L1037.3 1388 L1038.8 1382.2 L1042.6 1384.7 L1046.8 1388.9 L1051 1390.8 L1054.9 1386.2 L1059.8 1382.8 L1062.4 1378.8 L1060.8 1373 L1062.8 1367.6 L1065.8 1362.4 L1068.7 1357.2 L1070.3 1351.5 L1071.3 1345.5 L1072.4 1339.6 L1075.2 1334.4 L1078.4 1329.4 L1080.9 1323.9 L1083.1 1318.3 L1084.2 1312.5 L1085 1306.5 L1085.9 1300.6 L1088.3 1295.1 L1090.9 1289.7 L1093.5 1284.3 L1096 1278.9 L1099.2 1273.8 L1103 1269.2 L1106.8 1264.5 L1110.6 1259.9 L1113.5 1254.7 L1116.2 1249.3 L1118.8 1243.9 L1121.4 1238.5 L1123.1 1232.7 L1125.3 1227.6 L1131.1 1225.9 L1136.8 1224.1 L1142.5 1222.8 L1157.7 1189.8 L1160 1161.8 L1169.4 1144.8 L1175.7 1129.6 L1180 1115.6 L1185 1101.6 L1205.7 1077.8 L1209.3 1060.4 L1212.6 1043.6 L1216.9 1023.1 L1221.2 1002.6 L1224.6 992.2 L1229.4 952.2 L1234 936.8 L1239.5 902.5 L1241.4 889.4 L1244.8 862.4 L1247.6 838.1 L1250.5 808.6 L1255.5 793.2 L1257 780 L1259.5 772.4 L1261.9 764.8 L1264.4 757.2 L1266.4 749.4 L1267.9 741.6 L1269.4 733.7 L1270.9 725.9 L1272.5 718 L1274.3 710.2 L1276.1 702.4 L1277.9 694.6 L1279.8 686.9 L1281.5 679 L1282.4 671.1 L1283.4 663.2 L1284.3 655.2 L1285.3 647.3 L1286.6 639.4 L1288.2 631.6 L1289.8 623.7 L1292.1 616.1 L1295.3 608.8 L1298.5 601.4 L1301.8 594.2 L1305.9 587.3 L1310 580.4 L1314.1 573.5 L1317.9 566.5 L1321.5 559.4 L1325.2 552.3 L1328.9 545.2 L1333.1 538.4 L1337.4 531.6 L1341.6 524.8 L1346.1 518.2 L1350.9 511.8 L1355.7 505.4 L1360.4 498.9 L1352.1 494 L1374 492.6 L1358.5 477.1 L1380.1 476.7 L1367.1 459.4 L1388.9 461.9 L1376.7 443.4 L1398.4 448.2 L1388.3 428.8 L1409.5 434.1 L1399.2 415 L1420.6 418.7 L1408.5 400.4 L1430.2 403.4 L1418 385.2 L1439.9 387.7 L1426.6 370.1 L1448.5 371.6 L1435.3 353.9 L1457.1 356.9 L1445.5 338.3 L1467.2 342.1 L1455.6 323.4 L1477.2 327.2 L1466 308.4 L1487.5 312.7 L1476.5 293.7 L1497.8 298.3 L1487.9 278.9 L1509 284.8 L1499.4 265.1 L1520.1 271.4 L1512.9 250.9 L1532.8 260.5 L1526.6 239.5 L1546.7 248.1 L1539.3 227.6 L1559.8 234.9 L1551.4 214.7 L1570.3 223.9" fill="none" stroke="#FF00FF" stroke-width="3" stroke-linejoin="round"/>
<path fill="#FF00FF" d="M847 1440.2L867.5 1404.7L826.5 1404.7zM959 1434.7L979.5 1399.2L938.5 1399.2zM970 1434.4L990.5 1398.9L949.5 1398.9zM981 1434.1L1001.5 1398.6L960.5 1398.6zM992 1433.8L1012.5 1398.3L971.5 1398.3zM1003 1433.5L1023.5 1398L982.5 1398zM1014 1433.2L1034.5 1397.7L993.5 1397.7zM1025 1432.8L1045.5 1397.3L1004.5 1397.3zM1030 1432.7L1050.5 1397.2L1009.5 1397.2zM1035.8 1417.5L1056.3 1382L1015.3 1382zM1037.3 1411.7L1057.8 1376.2L1016.8 1376.2zM1038.8 1405.9L1059.3 1370.4L1018.3 1370.4zM1042.6 1408.4L1063.1 1372.9L1022.1 1372.9zM1046.8 1412.6L1067.3 1377.1L1026.3 1377.1zM1051 1414.5L1071.5 1379L1030.5 1379zM1054.9 1409.9L1075.4 1374.4L1034.4 1374.4zM1059.8 1406.5L1080.3 1371L1039.3 1371zM1062.4 1402.5L1082.9 1367L1041.9 1367zM1060.8 1396.7L1081.3 1361.2L1040.3 1361.2zM1062.8 1391.3L1083.3 1355.8L1042.3 1355.8zM1065.8 1386.1L1086.3 1350.6L1045.3 1350.6zM1068.7 1380.9L1089.2 1345.4L1048.2 1345.4zM1070.3 1375.2L1090.8 1339.7L1049.8 1339.7zM1071.3 1369.2L1091.8 1333.7L1050.8 1333.7zM1072.4 1363.3L1092.9 1327.8L1051.9 1327.8zM1075.2 1358.1L1095.7 1322.6L1054.7 1322.6zM1078.4 1353.1L1098.9 1317.6L1057.9 1317.6zM1080.9 1347.6L1101.4 1312.1L1060.4 1312.1zM1083.1 1342L1103.6 1306.5L1062.6 1306.5zM1084.2 1336.2L1104.7 1300.7L1063.7 1300.7zM1085 1330.2L1105.5 1294.7L1064.5 1294.7zM1085.9 1324.3L1106.4 1288.8L1065.4 1288.8zM1088.3 1318.8L1108.8 1283.3L1067.8 1283.3zM1090.9 1313.4L1111.4 1277.9L1070.4 1277.9zM1093.5 1308L1114 1272.5L1073 1272.5zM1096 1302.6L1116.5 1267.1L1075.5 1267.1zM1099.2 1297.5L1119.7 1262L1078.7 1262zM1103 1292.9L1123.5 1257.4L1082.5 1257.4zM1106.8 1288.2L1127.3 1252.7L1086.3 1252.7zM1110.6 1283.6L1131.1 1248.1L1090.1 1248.1zM1113.5 1278.4L1134 1242.9L1093 1242.9zM1116.2 1273L1136.7 1237.5L1095.7 1237.5zM1118.8 1267.6L1139.3 1232.1L1098.3 1232.1zM1121.4 1262.2L1141.9 1226.7L1100.9 1226.7zM1123.1 1256.4L1143.6 1220.9L1102.6 1220.9zM1125.3 1251.3L1145.8 1215.8L1104.8 1215.8zM1131.1 1249.6L1151.6 1214.1L1110.6 1214.1zM1136.8 1247.8L1157.3 1212.3L1116.3 1212.3zM1142.5 1246.5L1163 1211L1122 1211zM1157.7 1213.5L1178.2 1178L1137.2 1178zM1160 1185.5L1180.5 1150L1139.5 1150zM1169.4 1168.5L1189.9 1133L1148.9 1133zM1175.7 1153.3L1196.2 1117.8L1155.2 1117.8zM1180 1139.3L1200.5 1103.8L1159.5 1103.8zM1185 1125.3L1205.5 1089.8L1164.5 1089.8zM1205.7 1101.5L1226.2 1066L1185.2 1066zM1209.3 1084.1L1229.8 1048.6L1188.8 1048.6zM1212.6 1067.3L1233.1 1031.8L1192.1 1031.8zM1216.9 1046.8L1237.4 1011.3L1196.4 1011.3zM1221.2 1026.3L1241.7 990.8L1200.7 990.8zM1224.6 1015.9L1245.1 980.4L1204.1 980.4zM1229.4 975.9L1249.9 940.4L1208.9 940.4zM1234 960.5L1254.5 925L1213.5 925zM1239.5 926.2L1260 890.7L1219 890.7zM1241.4 913.1L1261.9 877.6L1220.9 877.6zM1244.8 886.1L1265.3 850.6L1224.3 850.6zM1247.6 861.8L1268.1 826.3L1227.1 826.3zM1250.5 832.3L1271 796.8L1230 796.8zM1255.5 816.9L1276 781.4L1235 781.4zM1257 803.7L1277.5 768.2L1236.5 768.2zM1259.5 796.1L1280 760.6L1239 760.6zM1261.9 788.5L1282.4 753L1241.4 753zM1264.4 780.9L1284.9 745.4L1243.9 745.4zM1266.4 773.1L1286.9 737.6L1245.9 737.6zM1267.9 765.3L1288.4 729.8L1247.4 729.8zM1269.4 757.4L1289.9 721.9L1248.9 721.9zM1270.9 749.6L1291.4 714.1L1250.4 714.1zM1272.5 741.7L1293 706.2L1252 706.2zM1274.3 733.9L1294.8 698.4L1253.8 698.4zM1276.1 726.1L1296.6 690.6L1255.6 690.6zM1277.9 718.3L1298.4 682.8L1257.4 682.8zM1279.8 710.6L1300.3 675.1L1259.3 675.1zM1281.5 702.7L1302 667.2L1261 667.2zM1282.4 694.8L1302.9 659.3L1261.9 659.3zM1283.4 686.9L1303.9 651.4L1262.9 651.4zM1284.3 678.9L1304.8 643.4L1263.8 643.4zM1285.3 671L1305.8 635.5L1264.8 635.5zM1286.6 663.1L1307.1 627.6L1266.1 627.6zM1288.2 655.3L1308.7 619.8L1267.7 619.8zM1289.8 647.4L1310.3 611.9L1269.3 611.9zM1292.1 639.8L1312.6 604.3L1271.6 604.3zM1295.3 632.5L1315.8 597L1274.8 597zM1298.5 625.1L1319 589.6L1278 589.6zM1301.8 617.9L1322.3 582.4L1281.3 582.4zM1305.9 611L1326.4 575.5L1285.4 575.5zM1310 604.1L1330.5 568.6L1289.5 568.6zM1314.1 597.2L1334.6 561.7L1293.6 561.7zM1317.9 590.2L1338.4 554.7L1297.4 554.7zM1321.5 583.1L1342 547.6L1301 547.6zM1325.2 576L1345.7 540.5L1304.7 540.5zM1328.9 568.9L1349.4 533.4L1308.4 533.4zM1333.1 562.1L1353.6 526.6L1312.6 526.6zM1337.4 555.3L1357.9 519.8L1316.9 519.8zM1341.6 548.5L1362.1 513L1321.1 513zM1346.1 541.9L1366.6 506.4L1325.6 506.4zM1350.9 535.5L1371.4 500L1330.4 500zM1355.7 529.1L1376.2 493.6L1335.2 493.6zM1360.4 522.6L1380.9 487.1L1339.9 487.1zM1352.1 517.7L1372.6 482.2L1331.6 482.2zM1374 516.3L1394.5 480.8L1353.5 480.8zM1358.5 500.8L1379 465.3L1338 465.3zM1380.1 500.4L1400.6 464.9L1359.6 464.9zM1367.1 483.1L1387.6 447.6L1346.6 447.6zM1388.9 485.6L1409.4 450.1L1368.4 450.1zM1376.7 467.1L1397.2 431.6L1356.2 431.6zM1398.4 471.9L1418.9 436.4L1377.9 436.4zM1388.3 452.5L1408.8 417L1367.8 417zM1409.5 457.8L1430 422.3L1389 422.3zM1399.2 438.7L1419.7 403.2L1378.7 403.2zM1420.6 442.4L1441.1 406.9L1400.1 406.9zM1408.5 424.1L1429 388.6L1388 388.6zM1430.2 427.1L1450.7 391.6L1409.7 391.6zM1418 408.9L1438.5 373.4L1397.5 373.4zM1439.9 411.4L1460.4 375.9L1419.4 375.9zM1426.6 393.8L1447.1 358.3L1406.1 358.3zM1448.5 395.3L1469 359.8L1428 359.8zM1435.3 377.6L1455.8 342.1L1414.8 342.1zM1457.1 380.6L1477.6 345.1L1436.6 345.1zM1445.5 362L1466 326.5L1425 326.5zM1467.2 365.8L1487.7 330.3L1446.7 330.3zM1455.6 347.1L1476.1 311.6L1435.1 311.6zM1477.2 350.9L1497.7 315.4L1456.7 315.4zM1466 332.1L1486.5 296.6L1445.5 296.6zM1487.5 336.4L1508 300.9L1467 300.9zM1476.5 317.4L1497 281.9L1456 281.9zM1497.8 322L1518.3 286.5L1477.3 286.5zM1487.9 302.6L1508.4 267.1L1467.4 267.1zM1509 308.5L1529.5 273L1488.5 273zM1499.4 288.8L1519.9 253.3L1478.9 253.3zM1520.1 295.1L1540.6 259.6L1499.6 259.6zM1512.9 274.6L1533.4 239.1L1492.4 239.1zM1532.8 284.2L1553.3 248.7L1512.3 248.7zM1526.6 263.2L1547.1 227.7L1506.1 227.7zM1546.7 271.8L1567.2 236.3L1526.2 236.3zM1539.3 251.3L1559.8 215.8L1518.8 215.8zM1559.8 258.6L1580.3 223.1L1539.3 223.1zM1551.4 238.4L1571.9 202.9L1530.9 202.9zM1570.3 247.6L1590.8 212.1L1549.8 212.1z"/>
<path d="M327 1314 L336 1320 L345 1314 L354 1320 L363 1314 L372 1320 L381 1314 L390 1320 L399 1314 L408 1320 L417 1314 L426 1320 L435 1314 L444 1320 L453 1314 L462 1319.8 L470.9 1312.9 L479.9 1318 L488.9 1311.1 L490 1306 L498.4 1318.9 L506.9 1299.8 L515.3 1312.7 L524 1294.5 L532.9 1309.3 L541.9 1292.1 L550.7 1306.8 L559.4 1288.2 L568 1301.6 L576.6 1283 L585 1295.8 L593.2 1276.1 L601.4 1288.4 L609.6 1268.7 L617.8 1281 L626.4 1262.3 L635.1 1276 L643.8 1257.7 L652.5 1271.5 L661.3 1253.7 L670.1 1268 L679 1250.2 L687.4 1263 L695.7 1243.7 L704.1 1256.4 L712.6 1237.3 L721.3 1251 L729.9 1232.7 L738.6 1246.4 L747.5 1229.1 L756.5 1244.1 L765.4 1227.1 L773.7 1239.6 L812 1230 L816.1 1242 L820.2 1214 L824.3 1226 L828.5 1198 L833.3 1210.4 L838.5 1183.1 L843.7 1195.8 L849 1168.4 L854.2 1181.1 L859 1153.5 L863.8 1165.9 L868.6 1138.3 L873.4 1150.6 L878.1 1123 L883.4 1135.7 L889 1108.7 L894.7 1121.7 L900.4 1094.8 L908.8 1111.5 L917.1 1088.1 L925.4 1104.7 L932.6 1079.3 L939.8 1093.9 L945.8 1067.6 L948.6 1079.1 L951.5 1050.5 L954.3 1062 L958.8 1034.2 L963.7 1046.7 L968.5 1019.1 L973 1031.3 L977.4 1003.4 L981.8 1015.6 L986.4 987.9 L991.3 1000.3 L996.2 972.8 L1000.8 985 L1004.1 956.7 L1006.6 968.1 L1007.9 939.2 L1009.2 950.3 L1011.1 921.5 L1013.7 932.9 L1016.3 904.3 L1018.9 915.7 L1021.4 887 L1023.9 898.4 L1026.5 869.8 L1029 881.1 L1031.4 852.5 L1033.9 863.8 L1038.2 836.1 L1044 849.2 L1049 821.7 L1053 833.7 L1055.5 805.1 L1059.3 817.1 L1064.9 790.1 L1066.7 801.3 L1068.4 772.5 L1069.6 783.5 L1070.9 754.6 L1072.4 765.8 L1075.4 737.3 L1078.2 748.8 L1079.5 719.8 L1080.7 730.9 L1082 702 L1085.8 713.9 L1089.7 685.7 L1098.1 706.3 L1100.9 682.1 L1098.7 693.4 L1095.2 665.1 L1096.4 679.4 L1104.9 657.8 L1100.6 669.8 L1100 642.1 L1105.1 654.7 L1107.4 626.3 L1108 637.3 L1108.6 608.4 L1110.1 619.6 L1113 591 L1115.7 602.4 L1118.3 573.8 L1120.7 585.1 L1122.9 556.4 L1125.1 567.7 L1127.3 539 L1130.4 550.6 L1134.1 522.4 L1137.8 534.1 L1141.5 505.9 L1145.2 517.7 L1148.9 489.5 L1152.2 501.1 L1155.3 472.7 L1158.4 484.3 L1161.8 455.9 L1165.4 467.7 L1169 439.4 L1173.9 451.9 L1179.3 424.8 L1184.1 437.2 L1187.4 408.9 L1190.8 420.5 L1195.1 392.8 L1201.2 406.1 L1206.5 379 L1210.5 391 L1214.5 362.9 L1219.2 375.2 L1224.2 347.7 L1228 362 L1228 342 L1235.3 356.7 L1242.6 331.4 L1249.8 346.1 L1256.4 319.9 L1262.9 333.7 L1269.4 307.5 L1276.2 321.6 L1283.1 295.8 L1290 310 L1290 280 L1297 314.4 L1304.8 270 L1313.1 306.4 L1321.3 262.9 L1329.6 299.4 L1337.9 255.9 L1346.1 292.1 L1354.2 248.3 L1362.3 284.4 L1370.5 240.5 L1378.6 276.7 L1386.9 233.3 L1395.3 270 L1403.7 226.7 L1412.1 263.4 L1420.5 220.2 L1428.8 256.8 L1437 213.2 L1445.3 249.5 L1453.5 205.9 L1461.8 242.3 L1470.1 198.9 L1478.5 235.8 L1487 192.7 L1495.5 229.7 L1503.9 186.6 L1511 224 L1511 197 L1519 206.9 L1527 188.8 L1535 198.7 L1543 180.6 L1551.1 190.5 L1559.5 173.4 L1568 184.5 L1576.5 167.6 L1585 178.7 L1593.6 161.8 L1602.1 173 L1610.7 156.1 L1619.2 167.3 L1627.7 150.4 L1636.3 161.6 L1644.8 144.7 L1653.3 155.9 L1661.9 139 L1670.4 150.1 L1678.9 133.2 L1687.4 144.3 L1695.9 127.4 L1704.6 138.9 L1713.3 122.8 L1722.1 134.7 L1730.8 118.6 L1739.6 130.5 L1748.3 114.4 L1756.8 125.4 L1765.2 108.2 L1773.6 119 L1782.1 101.8 L1790.5 112.6 L1798.9 95.4 L1807.1 105.7 L1815.3 88 L1823.4 98.2 L1831.6 80.5 L1839.8 90.7 L1848 72.9 L1856.4 83.9 L1865 67.1 L1873.6 78.3 L1882.1 61.6 L1890.7 72.8 L1899.2 56 L1907.8 67.2 L1916.3 50.4 L1924.9 61.6 L1933 45" fill="none" stroke="#008000" stroke-width="3" stroke-linejoin="round"/>
<path fill="#008000" d="M306.3 1314L327 1292L347.7 1314L327 1336zM315.3 1320L336 1298L356.7 1320L336 1342zM324.3 1314L345 1292L365.7 1314L345 1336zM333.3 1320L354 1298L374.7 1320L354 1342zM342.3 1314L363 1292L383.7 1314L363 1336zM351.3 1320L372 1298L392.7 1320L372 1342zM360.3 1314L381 1292L401.7 1314L381 1336zM369.3 1320L390 1298L410.7 1320L390 1342zM378.3 1314L399 1292L419.7 1314L399 1336zM387.3 1320L408 1298L428.7 1320L408 1342zM396.3 1314L417 1292L437.7 1314L417 1336zM405.3 1320L426 1298L446.7 1320L426 1342zM414.3 1314L435 1292L455.7 1314L435 1336zM423.3 1320L444 1298L464.7 1320L444 1342zM432.3 1314L453 1292L473.7 1314L453 1336zM441.3 1319.8L462 1297.8L482.7 1319.8L462 1341.8zM450.2 1312.9L470.9 1290.9L491.6 1312.9L470.9 1334.9zM459.2 1318L479.9 1296L500.6 1318L479.9 1340zM468.2 1311.1L488.9 1289.1L509.6 1311.1L488.9 1333.1zM469.3 1306L490 1284L510.7 1306L490 1328zM477.7 1318.9L498.4 1296.9L519.1 1318.9L498.4 1340.9zM486.2 1299.8L506.9 1277.8L527.6 1299.8L506.9 1321.8zM494.6 1312.7L515.3 1290.7L536 1312.7L515.3 1334.7zM503.3 1294.5L524 1272.5L544.7 1294.5L524 1316.5zM512.2 1309.3L532.9 1287.3L553.6 1309.3L532.9 1331.3zM521.2 1292.1L541.9 1270.1L562.6 1292.1L541.9 1314.1zM530 1306.8L550.7 1284.8L571.4 1306.8L550.7 1328.8zM538.7 1288.2L559.4 1266.2L580.1 1288.2L559.4 1310.2zM547.3 1301.6L568 1279.6L588.7 1301.6L568 1323.6zM555.9 1283L576.6 1261L597.3 1283L576.6 1305zM564.3 1295.8L585 1273.8L605.7 1295.8L585 1317.8zM572.5 1276.1L593.2 1254.1L613.9 1276.1L593.2 1298.1zM580.7 1288.4L601.4 1266.4L622.1 1288.4L601.4 1310.4zM588.9 1268.7L609.6 1246.7L630.3 1268.7L609.6 1290.7zM597.1 1281L617.8 1259L638.5 1281L617.8 1303zM605.7 1262.3L626.4 1240.3L647.1 1262.3L626.4 1284.3zM614.4 1276L635.1 1254L655.8 1276L635.1 1298zM623.1 1257.7L643.8 1235.7L664.5 1257.7L643.8 1279.7zM631.8 1271.5L652.5 1249.5L673.2 1271.5L652.5 1293.5zM640.6 1253.7L661.3 1231.7L682 1253.7L661.3 1275.7zM649.4 1268L670.1 1246L690.8 1268L670.1 1290zM658.3 1250.2L679 1228.2L699.7 1250.2L679 1272.2zM666.7 1263L687.4 1241L708.1 1263L687.4 1285zM675 1243.7L695.7 1221.7L716.4 1243.7L695.7 1265.7zM683.4 1256.4L704.1 1234.4L724.8 1256.4L704.1 1278.4zM691.9 1237.3L712.6 1215.3L733.3 1237.3L712.6 1259.3zM700.6 1251L721.3 1229L742 1251L721.3 1273zM709.2 1232.7L729.9 1210.7L750.6 1232.7L729.9 1254.7zM717.9 1246.4L738.6 1224.4L759.3 1246.4L738.6 1268.4zM726.8 1229.1L747.5 1207.1L768.2 1229.1L747.5 1251.1zM735.8 1244.1L756.5 1222.1L777.2 1244.1L756.5 1266.1zM744.7 1227.1L765.4 1205.1L786.1 1227.1L765.4 1249.1zM753 1239.6L773.7 1217.6L794.4 1239.6L773.7 1261.6zM791.3 1230L812 1208L832.7 1230L812 1252zM795.4 1242L816.1 1220L836.8 1242L816.1 1264zM799.5 1214L820.2 1192L840.9 1214L820.2 1236zM803.6 1226L824.3 1204L845 1226L824.3 1248zM807.8 1198L828.5 1176L849.2 1198L828.5 1220zM812.6 1210.4L833.3 1188.4L854 1210.4L833.3 1232.4zM817.8 1183.1L838.5 1161.1L859.2 1183.1L838.5 1205.1zM823 1195.8L843.7 1173.8L864.4 1195.8L843.7 1217.8zM828.3 1168.4L849 1146.4L869.7 1168.4L849 1190.4zM833.5 1181.1L854.2 1159.1L874.9 1181.1L854.2 1203.1zM838.3 1153.5L859 1131.5L879.7 1153.5L859 1175.5zM843.1 1165.9L863.8 1143.9L884.5 1165.9L863.8 1187.9zM847.9 1138.3L868.6 1116.3L889.3 1138.3L868.6 1160.3zM852.7 1150.6L873.4 1128.6L894.1 1150.6L873.4 1172.6zM857.4 1123L878.1 1101L898.8 1123L878.1 1145zM862.7 1135.7L883.4 1113.7L904.1 1135.7L883.4 1157.7zM868.3 1108.7L889 1086.7L909.7 1108.7L889 1130.7zM874 1121.7L894.7 1099.7L915.4 1121.7L894.7 1143.7zM879.7 1094.8L900.4 1072.8L921.1 1094.8L900.4 1116.8zM888.1 1111.5L908.8 1089.5L929.5 1111.5L908.8 1133.5zM896.4 1088.1L917.1 1066.1L937.8 1088.1L917.1 1110.1zM904.7 1104.7L925.4 1082.7L946.1 1104.7L925.4 1126.7zM911.9 1079.3L932.6 1057.3L953.3 1079.3L932.6 1101.3zM919.1 1093.9L939.8 1071.9L960.5 1093.9L939.8 1115.9zM925.1 1067.6L945.8 1045.6L966.5 1067.6L945.8 1089.6zM927.9 1079.1L948.6 1057.1L969.3 1079.1L948.6 1101.1zM930.8 1050.5L951.5 1028.5L972.2 1050.5L951.5 1072.5zM933.6 1062L954.3 1040L975 1062L954.3 1084zM938.1 1034.2L958.8 1012.2L979.5 1034.2L958.8 1056.2zM943 1046.7L963.7 1024.7L984.4 1046.7L963.7 1068.7zM947.8 1019.1L968.5 997.1L989.2 1019.1L968.5 1041.1zM952.3 1031.3L973 1009.3L993.7 1031.3L973 1053.3zM956.7 1003.4L977.4 981.4L998.1 1003.4L977.4 1025.4zM961.1 1015.6L981.8 993.6L1002.5 1015.6L981.8 1037.6zM965.7 987.9L986.4 965.9L1007.1 987.9L986.4 1009.9zM970.6 1000.3L991.3 978.3L1012 1000.3L991.3 1022.3zM975.5 972.8L996.2 950.8L1016.9 972.8L996.2 994.8zM980.1 985L1000.8 963L1021.5 985L1000.8 1007zM983.4 956.7L1004.1 934.7L1024.8 956.7L1004.1 978.7zM985.9 968.1L1006.6 946.1L1027.3 968.1L1006.6 990.1zM987.2 939.2L1007.9 917.2L1028.6 939.2L1007.9 961.2zM988.5 950.3L1009.2 928.3L1029.9 950.3L1009.2 972.3zM990.4 921.5L1011.1 899.5L1031.8 921.5L1011.1 943.5zM993 932.9L1013.7 910.9L1034.4 932.9L1013.7 954.9zM995.6 904.3L1016.3 882.3L1037 904.3L1016.3 926.3zM998.2 915.7L1018.9 893.7L1039.6 915.7L1018.9 937.7zM1000.7 887L1021.4 865L1042.1 887L1021.4 909zM1003.2 898.4L1023.9 876.4L1044.6 898.4L1023.9 920.4zM1005.8 869.8L1026.5 847.8L1047.2 869.8L1026.5 891.8zM1008.3 881.1L1029 859.1L1049.7 881.1L1029 903.1zM1010.7 852.5L1031.4 830.5L1052.1 852.5L1031.4 874.5zM1013.2 863.8L1033.9 841.8L1054.6 863.8L1033.9 885.8zM1017.5 836.1L1038.2 814.1L1058.9 836.1L1038.2 858.1zM1023.3 849.2L1044 827.2L1064.7 849.2L1044 871.2zM1028.3 821.7L1049 799.7L1069.7 821.7L1049 843.7zM1032.3 833.7L1053 811.7L1073.7 833.7L1053 855.7zM1034.8 805.1L1055.5 783.1L1076.2 805.1L1055.5 827.1zM1038.6 817.1L1059.3 795.1L1080 817.1L1059.3 839.1zM1044.2 790.1L1064.9 768.1L1085.6 790.1L1064.9 812.1zM1046 801.3L1066.7 779.3L1087.4 801.3L1066.7 823.3zM1047.7 772.5L1068.4 750.5L1089.1 772.5L1068.4 794.5zM1048.9 783.5L1069.6 761.5L1090.3 783.5L1069.6 805.5zM1050.2 754.6L1070.9 732.6L1091.6 754.6L1070.9 776.6zM1051.7 765.8L1072.4 743.8L1093.1 765.8L1072.4 787.8zM1054.7 737.3L1075.4 715.3L1096.1 737.3L1075.4 759.3zM1057.5 748.8L1078.2 726.8L1098.9 748.8L1078.2 770.8zM1058.8 719.8L1079.5 697.8L1100.2 719.8L1079.5 741.8zM1060 730.9L1080.7 708.9L1101.4 730.9L1080.7 752.9zM1061.3 702L1082 680L1102.7 702L1082 724zM1065.1 713.9L1085.8 691.9L1106.5 713.9L1085.8 735.9zM1069 685.7L1089.7 663.7L1110.4 685.7L1089.7 707.7zM1077.4 706.3L1098.1 684.3L1118.8 706.3L1098.1 728.3zM1080.2 682.1L1100.9 660.1L1121.6 682.1L1100.9 704.1zM1078 693.4L1098.7 671.4L1119.4 693.4L1098.7 715.4zM1074.5 665.1L1095.2 643.1L1115.9 665.1L1095.2 687.1zM1075.7 679.4L1096.4 657.4L1117.1 679.4L1096.4 701.4zM1084.2 657.8L1104.9 635.8L1125.6 657.8L1104.9 679.8zM1079.9 669.8L1100.6 647.8L1121.3 669.8L1100.6 691.8zM1079.3 642.1L1100 620.1L1120.7 642.1L1100 664.1zM1084.4 654.7L1105.1 632.7L1125.8 654.7L1105.1 676.7zM1086.7 626.3L1107.4 604.3L1128.1 626.3L1107.4 648.3zM1087.3 637.3L1108 615.3L1128.7 637.3L1108 659.3zM1087.9 608.4L1108.6 586.4L1129.3 608.4L1108.6 630.4zM1089.4 619.6L1110.1 597.6L1130.8 619.6L1110.1 641.6zM1092.3 591L1113 569L1133.7 591L1113 613zM1095 602.4L1115.7 580.4L1136.4 602.4L1115.7 624.4zM1097.6 573.8L1118.3 551.8L1139 573.8L1118.3 595.8zM1100 585.1L1120.7 563.1L1141.4 585.1L1120.7 607.1zM1102.2 556.4L1122.9 534.4L1143.6 556.4L1122.9 578.4zM1104.4 567.7L1125.1 545.7L1145.8 567.7L1125.1 589.7zM1106.6 539L1127.3 517L1148 539L1127.3 561zM1109.7 550.6L1130.4 528.6L1151.1 550.6L1130.4 572.6zM1113.4 522.4L1134.1 500.4L1154.8 522.4L1134.1 544.4zM1117.1 534.1L1137.8 512.1L1158.5 534.1L1137.8 556.1zM1120.8 505.9L1141.5 483.9L1162.2 505.9L1141.5 527.9zM1124.5 517.7L1145.2 495.7L1165.9 517.7L1145.2 539.7zM1128.2 489.5L1148.9 467.5L1169.6 489.5L1148.9 511.5zM1131.5 501.1L1152.2 479.1L1172.9 501.1L1152.2 523.1zM1134.6 472.7L1155.3 450.7L1176 472.7L1155.3 494.7zM1137.7 484.3L1158.4 462.3L1179.1 484.3L1158.4 506.3zM1141.1 455.9L1161.8 433.9L1182.5 455.9L1161.8 477.9zM1144.7 467.7L1165.4 445.7L1186.1 467.7L1165.4 489.7zM1148.3 439.4L1169 417.4L1189.7 439.4L1169 461.4zM1153.2 451.9L1173.9 429.9L1194.6 451.9L1173.9 473.9zM1158.6 424.8L1179.3 402.8L1200 424.8L1179.3 446.8zM1163.4 437.2L1184.1 415.2L1204.8 437.2L1184.1 459.2zM1166.7 408.9L1187.4 386.9L1208.1 408.9L1187.4 430.9zM1170.1 420.5L1190.8 398.5L1211.5 420.5L1190.8 442.5zM1174.4 392.8L1195.1 370.8L1215.8 392.8L1195.1 414.8zM1180.5 406.1L1201.2 384.1L1221.9 406.1L1201.2 428.1zM1185.8 379L1206.5 357L1227.2 379L1206.5 401zM1189.8 391L1210.5 369L1231.2 391L1210.5 413zM1193.8 362.9L1214.5 340.9L1235.2 362.9L1214.5 384.9zM1198.5 375.2L1219.2 353.2L1239.9 375.2L1219.2 397.2zM1203.5 347.7L1224.2 325.7L1244.9 347.7L1224.2 369.7zM1207.3 362L1228 340L1248.7 362L1228 384zM1207.3 342L1228 320L1248.7 342L1228 364zM1214.6 356.7L1235.3 334.7L1256 356.7L1235.3 378.7zM1221.9 331.4L1242.6 309.4L1263.3 331.4L1242.6 353.4zM1229.1 346.1L1249.8 324.1L1270.5 346.1L1249.8 368.1zM1235.7 319.9L1256.4 297.9L1277.1 319.9L1256.4 341.9zM1242.2 333.7L1262.9 311.7L1283.6 333.7L1262.9 355.7zM1248.7 307.5L1269.4 285.5L1290.1 307.5L1269.4 329.5zM1255.5 321.6L1276.2 299.6L1296.9 321.6L1276.2 343.6zM1262.4 295.8L1283.1 273.8L1303.8 295.8L1283.1 317.8zM1269.3 310L1290 288L1310.7 310L1290 332zM1269.3 280L1290 258L1310.7 280L1290 302zM1276.3 314.4L1297 292.4L1317.7 314.4L1297 336.4zM1284.1 270L1304.8 248L1325.5 270L1304.8 292zM1292.4 306.4L1313.1 284.4L1333.8 306.4L1313.1 328.4zM1300.6 262.9L1321.3 240.9L1342 262.9L1321.3 284.9zM1308.9 299.4L1329.6 277.4L1350.3 299.4L1329.6 321.4zM1317.2 255.9L1337.9 233.9L1358.6 255.9L1337.9 277.9zM1325.4 292.1L1346.1 270.1L1366.8 292.1L1346.1 314.1zM1333.5 248.3L1354.2 226.3L1374.9 248.3L1354.2 270.3zM1341.6 284.4L1362.3 262.4L1383 284.4L1362.3 306.4zM1349.8 240.5L1370.5 218.5L1391.2 240.5L1370.5 262.5zM1357.9 276.7L1378.6 254.7L1399.3 276.7L1378.6 298.7zM1366.2 233.3L1386.9 211.3L1407.6 233.3L1386.9 255.3zM1374.6 270L1395.3 248L1416 270L1395.3 292zM1383 226.7L1403.7 204.7L1424.4 226.7L1403.7 248.7zM1391.4 263.4L1412.1 241.4L1432.8 263.4L1412.1 285.4zM1399.8 220.2L1420.5 198.2L1441.2 220.2L1420.5 242.2zM1408.1 256.8L1428.8 234.8L1449.5 256.8L1428.8 278.8zM1416.3 213.2L1437 191.2L1457.7 213.2L1437 235.2zM1424.6 249.5L1445.3 227.5L1466 249.5L1445.3 271.5zM1432.8 205.9L1453.5 183.9L1474.2 205.9L1453.5 227.9zM1441.1 242.3L1461.8 220.3L1482.5 242.3L1461.8 264.3zM1449.4 198.9L1470.1 176.9L1490.8 198.9L1470.1 220.9zM1457.8 235.8L1478.5 213.8L1499.2 235.8L1478.5 257.8zM1466.3 192.7L1487 170.7L1507.7 192.7L1487 214.7zM1474.8 229.7L1495.5 207.7L1516.2 229.7L1495.5 251.7zM1483.2 186.6L1503.9 164.6L1524.6 186.6L1503.9 208.6zM1490.3 224L1511 202L1531.7 224L1511 246zM1490.3 197L1511 175L1531.7 197L1511 219zM1498.3 206.9L1519 184.9L1539.7 206.9L1519 228.9zM1506.3 188.8L1527 166.8L1547.7 188.8L1527 210.8zM1514.3 198.7L1535 176.7L1555.7 198.7L1535 220.7zM1522.3 180.6L1543 158.6L1563.7 180.6L1543 202.6zM1530.4 190.5L1551.1 168.5L1571.8 190.5L1551.1 212.5zM1538.8 173.4L1559.5 151.4L1580.2 173.4L1559.5 195.4zM1547.3 184.5L1568 162.5L1588.7 184.5L1568 206.5zM1555.8 167.6L1576.5 145.6L1597.2 167.6L1576.5 189.6zM1564.3 178.7L1585 156.7L1605.7 178.7L1585 200.7zM1572.9 161.8L1593.6 139.8L1614.3 161.8L1593.6 183.8zM1581.4 173L1602.1 151L1622.8 173L1602.1 195zM1590 156.1L1610.7 134.1L1631.4 156.1L1610.7 178.1zM1598.5 167.3L1619.2 145.3L1639.9 167.3L1619.2 189.3zM1607 150.4L1627.7 128.4L1648.4 150.4L1627.7 172.4zM1615.6 161.6L1636.3 139.6L1657 161.6L1636.3 183.6zM1624.1 144.7L1644.8 122.7L1665.5 144.7L1644.8 166.7zM1632.6 155.9L1653.3 133.9L1674 155.9L1653.3 177.9zM1641.2 139L1661.9 117L1682.6 139L1661.9 161zM1649.7 150.1L1670.4 128.1L1691.1 150.1L1670.4 172.1zM1658.2 133.2L1678.9 111.2L1699.6 133.2L1678.9 155.2zM1666.7 144.3L1687.4 122.3L1708.1 144.3L1687.4 166.3zM1675.2 127.4L1695.9 105.4L1716.6 127.4L1695.9 149.4zM1683.9 138.9L1704.6 116.9L1725.3 138.9L1704.6 160.9zM1692.6 122.8L1713.3 100.8L1734 122.8L1713.3 144.8zM1701.4 134.7L1722.1 112.7L1742.8 134.7L1722.1 156.7zM1710.1 118.6L1730.8 96.6L1751.5 118.6L1730.8 140.6zM1718.9 130.5L1739.6 108.5L1760.3 130.5L1739.6 152.5zM1727.6 114.4L1748.3 92.4L1769 114.4L1748.3 136.4zM1736.1 125.4L1756.8 103.4L1777.5 125.4L1756.8 147.4zM1744.5 108.2L1765.2 86.2L1785.9 108.2L1765.2 130.2zM1752.9 119L1773.6 97L1794.3 119L1773.6 141zM1761.4 101.8L1782.1 79.8L1802.8 101.8L1782.1 123.8zM1769.8 112.6L1790.5 90.6L1811.2 112.6L1790.5 134.6zM1778.2 95.4L1798.9 73.4L1819.6 95.4L1798.9 117.4zM1786.4 105.7L1807.1 83.7L1827.8 105.7L1807.1 127.7zM1794.6 88L1815.3 66L1836 88L1815.3 110zM1802.7 98.2L1823.4 76.2L1844.1 98.2L1823.4 120.2zM1810.9 80.5L1831.6 58.5L1852.3 80.5L1831.6 102.5zM1819.1 90.7L1839.8 68.7L1860.5 90.7L1839.8 112.7zM1827.3 72.9L1848 50.9L1868.7 72.9L1848 94.9zM1835.7 83.9L1856.4 61.9L1877.1 83.9L1856.4 105.9zM1844.3 67.1L1865 45.1L1885.7 67.1L1865 89.1zM1852.9 78.3L1873.6 56.3L1894.3 78.3L1873.6 100.3zM1861.4 61.6L1882.1 39.6L1902.8 61.6L1882.1 83.6zM1870 72.8L1890.7 50.8L1911.4 72.8L1890.7 94.8zM1878.5 56L1899.2 34L1919.9 56L1899.2 78zM1887.1 67.2L1907.8 45.2L1928.5 67.2L1907.8 89.2zM1895.6 50.4L1916.3 28.4L1937 50.4L1916.3 72.4zM1904.2 61.6L1924.9 39.6L1945.6 61.6L1924.9 83.6zM1912.3 45L1933 23L1953.7 45L1933 67z"/>
<path d="M260 1405 L272 1405 L284 1404.9 L296 1404.9 L308 1404.9 L320 1404.9 L332 1404.8 L344 1404.8 L356 1404.8 L368 1404.8 L380 1404.7 L392 1404.7 L404 1404.7 L416 1404.6 L428 1404.6 L440 1404.6 L452 1404.6 L464 1404.5 L476 1404.5 L488 1404.5 L500 1404.5 L512 1404.4 L524 1404.4 L536 1404.4 L548 1404.3 L560 1404.3 L572 1404.3 L584 1404.3 L596 1404.2 L608 1404.2 L620 1404.2 L632 1404.2 L644 1404.1 L656 1404.1 L668 1404.1 L680 1404.1 L692 1404 L703 1404 L645 1399 L652.6 1396.6 L660.3 1394.2 L667.9 1391.8 L675.5 1389.4 L683.1 1386.8 L690.5 1383.8 L697.9 1380.8 L705.4 1377.9 L712.9 1375.1 L720.3 1372.2 L727.3 1368.2 L734.1 1364.1 L741.5 1361.2 L749.1 1358.5 L756.4 1355.3 L763.2 1351.1 L768.1 1345 L773.4 1339.2 L779.6 1334 L782 1332 L784 1308 L784 1274 L795 1247 L795 1216 L808 1181 L822 1145 L822 1114 L832 1088 L836 1066 L846 1018 L854 988 L862 960 L867 878 L868 808 L879 727 L892 700 L907 668 L920 638 L922 625 L934 608 L944 584 L956 557 L965 497 L966.5 494.5 L969.1 489.1 L971.8 483.7 L974.4 478.3 L977.1 473 L982.3 470 L987.5 467 L992.3 463.6 L996.5 459.3 L1000.6 454.9 L1005.1 450.9 L1009.7 447.1 L1013.6 442.6 L1016 439.5 L1023 415 L1028.6 410.8 L1034.3 406.8 L1041.1 405.4 L1048 404.2 L1054.8 402.8 L1060.8 399.2 L1067.3 396.7 L1073.8 393.9 L1080.2 391.1 L1086.7 388.5 L1093.3 386.5 L1100.2 385 L1107 383.5 L1112.7 379.6 L1118 375.1 L1123.7 371.1 L1129.6 367.4 L1135.1 363.1 L1140.6 358.6 L1145.9 354.1 L1152.4 351.6 L1159 349.3 L1165.8 347.5 L1172.5 345.6 L1179 342.9 L1185.4 340.2 L1191.9 337.5 L1198.4 334.8 L1204.8 332.2 L1211.2 329.3 L1217.3 325.8 L1223.3 322.3 L1229.4 318.8 L1235.5 315.4 L1241.5 311.9 L1247.6 308.4 L1253.9 305.3 L1260.3 302.4 L1266.6 299.5 L1273 296.6 L1279.4 293.8 L1285.8 290.9 L1292.2 288.1 L1298.7 285.5 L1305.2 282.9 L1311.7 280.3 L1318.2 277.7 L1324.7 275.1 L1331.2 272.6 L1337.8 270.3 L1344.4 267.9 L1351 265.6 L1357.7 263.3 L1364.3 261 L1370.9 258.7 L1377.4 256.1 L1383.9 253.6 L1390.4 251.1 L1397 248.6 L1403.5 246.1 L1410 243.5 L1414 242 L1599 172 L1606.5 169.2 L1614 166.4 L1621.5 163.5 L1629 160.7 L1636.4 157.9 L1643.9 155.1 L1651.4 152.3 L1658.9 149.5 L1666.4 146.6 L1673.9 143.8 L1681.4 141 L1688.9 138.2 L1696.3 135.4 L1703.8 132.6 L1711.3 129.8 L1718.8 127 L1726.3 124.3 L1733.8 121.5 L1741.3 118.7 L1748.9 115.9 L1756.4 113.1 L1763.9 110.4 L1771.4 107.6 L1778.9 104.8 L1786.4 102 L1793.9 99.3 L1801.4 96.5 L1809 94.1 L1816.6 91.6 L1824.2 89.1 L1831.8 86.7 L1839.4 84.2 L1847.1 81.7 L1854.7 79.3 L1862.3 76.8 L1869.9 74.3 L1877.5 71.9 L1885.1 69.4 L1892.7 66.9 L1900.3 64.5 L1907.9 62 L1915.5 59.5 L1923.2 57.1 L1930.8 54.6 L1938.4 52.1 L1945 50" fill="none" stroke="#000080" stroke-width="3" stroke-linejoin="round"/>
<path fill="#000080" d="M237 1405L271.5 1385L271.5 1425zM249 1405L283.5 1385L283.5 1425zM261 1404.9L295.5 1384.9L295.5 1424.9zM273 1404.9L307.5 1384.9L307.5 1424.9zM285 1404.9L319.5 1384.9L319.5 1424.9zM297 1404.9L331.5 1384.9L331.5 1424.9zM309 1404.8L343.5 1384.8L343.5 1424.8zM321 1404.8L355.5 1384.8L355.5 1424.8zM333 1404.8L367.5 1384.8L367.5 1424.8zM345 1404.8L379.5 1384.8L379.5 1424.8zM357 1404.7L391.5 1384.7L391.5 1424.7zM369 1404.7L403.5 1384.7L403.5 1424.7zM381 1404.7L415.5 1384.7L415.5 1424.7zM393 1404.6L427.5 1384.6L427.5 1424.6zM405 1404.6L439.5 1384.6L439.5 1424.6zM417 1404.6L451.5 1384.6L451.5 1424.6zM429 1404.6L463.5 1384.6L463.5 1424.6zM441 1404.5L475.5 1384.5L475.5 1424.5zM453 1404.5L487.5 1384.5L487.5 1424.5zM465 1404.5L499.5 1384.5L499.5 1424.5zM477 1404.5L511.5 1384.5L511.5 1424.5zM489 1404.4L523.5 1384.4L523.5 1424.4zM501 1404.4L535.5 1384.4L535.5 1424.4zM513 1404.4L547.5 1384.4L547.5 1424.4zM525 1404.3L559.5 1384.3L559.5 1424.3zM537 1404.3L571.5 1384.3L571.5 1424.3zM549 1404.3L583.5 1384.3L583.5 1424.3zM561 1404.3L595.5 1384.3L595.5 1424.3zM573 1404.2L607.5 1384.2L607.5 1424.2zM585 1404.2L619.5 1384.2L619.5 1424.2zM597 1404.2L631.5 1384.2L631.5 1424.2zM609 1404.2L643.5 1384.2L643.5 1424.2zM621 1404.1L655.5 1384.1L655.5 1424.1zM633 1404.1L667.5 1384.1L667.5 1424.1zM645 1404.1L679.5 1384.1L679.5 1424.1zM657 1404.1L691.5 1384.1L691.5 1424.1zM669 1404L703.5 1384L703.5 1424zM680 1404L714.5 1384L714.5 1424zM622 1399L656.5 1379L656.5 1419zM629.6 1396.6L664.1 1376.6L664.1 1416.6zM637.3 1394.2L671.8 1374.2L671.8 1414.2zM644.9 1391.8L679.4 1371.8L679.4 1411.8zM652.5 1389.4L687 1369.4L687 1409.4zM660.1 1386.8L694.6 1366.8L694.6 1406.8zM667.5 1383.8L702 1363.8L702 1403.8zM674.9 1380.8L709.4 1360.8L709.4 1400.8zM682.4 1377.9L716.9 1357.9L716.9 1397.9zM689.9 1375.1L724.4 1355.1L724.4 1395.1zM697.3 1372.2L731.8 1352.2L731.8 1392.2zM704.3 1368.2L738.8 1348.2L738.8 1388.2zM711.1 1364.1L745.6 1344.1L745.6 1384.1zM718.5 1361.2L753 1341.2L753 1381.2zM726.1 1358.5L760.6 1338.5L760.6 1378.5zM733.4 1355.3L767.9 1335.3L767.9 1375.3zM740.2 1351.1L774.7 1331.1L774.7 1371.1zM745.1 1345L779.6 1325L779.6 1365zM750.4 1339.2L784.9 1319.2L784.9 1359.2zM756.6 1334L791.1 1314L791.1 1354zM759 1332L793.5 1312L793.5 1352zM761 1308L795.5 1288L795.5 1328zM761 1274L795.5 1254L795.5 1294zM772 1247L806.5 1227L806.5 1267zM772 1216L806.5 1196L806.5 1236zM785 1181L819.5 1161L819.5 1201zM799 1145L833.5 1125L833.5 1165zM799 1114L833.5 1094L833.5 1134zM809 1088L843.5 1068L843.5 1108zM813 1066L847.5 1046L847.5 1086zM823 1018L857.5 998L857.5 1038zM831 988L865.5 968L865.5 1008zM839 960L873.5 940L873.5 980zM844 878L878.5 858L878.5 898zM845 808L879.5 788L879.5 828zM856 727L890.5 707L890.5 747zM869 700L903.5 680L903.5 720zM884 668L918.5 648L918.5 688zM897 638L931.5 618L931.5 658zM899 625L933.5 605L933.5 645zM911 608L945.5 588L945.5 628zM921 584L955.5 564L955.5 604zM933 557L967.5 537L967.5 577zM942 497L976.5 477L976.5 517zM943.5 494.5L978 474.5L978 514.5zM946.1 489.1L980.6 469.1L980.6 509.1zM948.8 483.7L983.3 463.7L983.3 503.7zM951.4 478.3L985.9 458.3L985.9 498.3zM954.1 473L988.6 453L988.6 493zM959.3 470L993.8 450L993.8 490zM964.5 467L999 447L999 487zM969.3 463.6L1003.8 443.6L1003.8 483.6zM973.5 459.3L1008 439.3L1008 479.3zM977.6 454.9L1012.1 434.9L1012.1 474.9zM982.1 450.9L1016.6 430.9L1016.6 470.9zM986.7 447.1L1021.2 427.1L1021.2 467.1zM990.6 442.6L1025.1 422.6L1025.1 462.6zM993 439.5L1027.5 419.5L1027.5 459.5zM1000 415L1034.5 395L1034.5 435zM1005.6 410.8L1040.1 390.8L1040.1 430.8zM1011.3 406.8L1045.8 386.8L1045.8 426.8zM1018.1 405.4L1052.6 385.4L1052.6 425.4zM1025 404.2L1059.5 384.2L1059.5 424.2zM1031.8 402.8L1066.3 382.8L1066.3 422.8zM1037.8 399.2L1072.3 379.2L1072.3 419.2zM1044.3 396.7L1078.8 376.7L1078.8 416.7zM1050.8 393.9L1085.3 373.9L1085.3 413.9zM1057.2 391.1L1091.7 371.1L1091.7 411.1zM1063.7 388.5L1098.2 368.5L1098.2 408.5zM1070.3 386.5L1104.8 366.5L1104.8 406.5zM1077.2 385L1111.7 365L1111.7 405zM1084 383.5L1118.5 363.5L1118.5 403.5zM1089.7 379.6L1124.2 359.6L1124.2 399.6zM1095 375.1L1129.5 355.1L1129.5 395.1zM1100.7 371.1L1135.2 351.1L1135.2 391.1zM1106.6 367.4L1141.1 347.4L1141.1 387.4zM1112.1 363.1L1146.6 343.1L1146.6 383.1zM1117.6 358.6L1152.1 338.6L1152.1 378.6zM1122.9 354.1L1157.4 334.1L1157.4 374.1zM1129.4 351.6L1163.9 331.6L1163.9 371.6zM1136 349.3L1170.5 329.3L1170.5 369.3zM1142.8 347.5L1177.3 327.5L1177.3 367.5zM1149.5 345.6L1184 325.6L1184 365.6zM1156 342.9L1190.5 322.9L1190.5 362.9zM1162.4 340.2L1196.9 320.2L1196.9 360.2zM1168.9 337.5L1203.4 317.5L1203.4 357.5zM1175.4 334.8L1209.9 314.8L1209.9 354.8zM1181.8 332.2L1216.3 312.2L1216.3 352.2zM1188.2 329.3L1222.7 309.3L1222.7 349.3zM1194.3 325.8L1228.8 305.8L1228.8 345.8zM1200.3 322.3L1234.8 302.3L1234.8 342.3zM1206.4 318.8L1240.9 298.8L1240.9 338.8zM1212.5 315.4L1247 295.4L1247 335.4zM1218.5 311.9L1253 291.9L1253 331.9zM1224.6 308.4L1259.1 288.4L1259.1 328.4zM1230.9 305.3L1265.4 285.3L1265.4 325.3zM1237.3 302.4L1271.8 282.4L1271.8 322.4zM1243.6 299.5L1278.1 279.5L1278.1 319.5zM1250 296.6L1284.5 276.6L1284.5 316.6zM1256.4 293.8L1290.9 273.8L1290.9 313.8zM1262.8 290.9L1297.3 270.9L1297.3 310.9zM1269.2 288.1L1303.7 268.1L1303.7 308.1zM1275.7 285.5L1310.2 265.5L1310.2 305.5zM1282.2 282.9L1316.7 262.9L1316.7 302.9zM1288.7 280.3L1323.2 260.3L1323.2 300.3zM1295.2 277.7L1329.7 257.7L1329.7 297.7zM1301.7 275.1L1336.2 255.1L1336.2 295.1zM1308.2 272.6L1342.7 252.6L1342.7 292.6zM1314.8 270.3L1349.3 250.3L1349.3 290.3zM1321.4 267.9L1355.9 247.9L1355.9 287.9zM1328 265.6L1362.5 245.6L1362.5 285.6zM1334.7 263.3L1369.2 243.3L1369.2 283.3zM1341.3 261L1375.8 241L1375.8 281zM1347.9 258.7L1382.4 238.7L1382.4 278.7zM1354.4 256.1L1388.9 236.1L1388.9 276.1zM1360.9 253.6L1395.4 233.6L1395.4 273.6zM1367.4 251.1L1401.9 231.1L1401.9 271.1zM1374 248.6L1408.5 228.6L1408.5 268.6zM1380.5 246.1L1415 226.1L1415 266.1zM1387 243.5L1421.5 223.5L1421.5 263.5zM1391 242L1425.5 222L1425.5 262zM1576 172L1610.5 152L1610.5 192zM1583.5 169.2L1618 149.2L1618 189.2zM1591 166.4L1625.5 146.4L1625.5 186.4zM1598.5 163.5L1633 143.5L1633 183.5zM1606 160.7L1640.5 140.7L1640.5 180.7zM1613.4 157.9L1647.9 137.9L1647.9 177.9zM1620.9 155.1L1655.4 135.1L1655.4 175.1zM1628.4 152.3L1662.9 132.3L1662.9 172.3zM1635.9 149.5L1670.4 129.5L1670.4 169.5zM1643.4 146.6L1677.9 126.6L1677.9 166.6zM1650.9 143.8L1685.4 123.8L1685.4 163.8zM1658.4 141L1692.9 121L1692.9 161zM1665.9 138.2L1700.4 118.2L1700.4 158.2zM1673.3 135.4L1707.8 115.4L1707.8 155.4zM1680.8 132.6L1715.3 112.6L1715.3 152.6zM1688.3 129.8L1722.8 109.8L1722.8 149.8zM1695.8 127L1730.3 107L1730.3 147zM1703.3 124.3L1737.8 104.3L1737.8 144.3zM1710.8 121.5L1745.3 101.5L1745.3 141.5zM1718.3 118.7L1752.8 98.7L1752.8 138.7zM1725.9 115.9L1760.4 95.9L1760.4 135.9zM1733.4 113.1L1767.9 93.1L1767.9 133.1zM1740.9 110.4L1775.4 90.4L1775.4 130.4zM1748.4 107.6L1782.9 87.6L1782.9 127.6zM1755.9 104.8L1790.4 84.8L1790.4 124.8zM1763.4 102L1797.9 82L1797.9 122zM1770.9 99.3L1805.4 79.3L1805.4 119.3zM1778.4 96.5L1812.9 76.5L1812.9 116.5zM1786 94.1L1820.5 74.1L1820.5 114.1zM1793.6 91.6L1828.1 71.6L1828.1 111.6zM1801.2 89.1L1835.7 69.1L1835.7 109.1zM1808.8 86.7L1843.3 66.7L1843.3 106.7zM1816.4 84.2L1850.9 64.2L1850.9 104.2zM1824.1 81.7L1858.6 61.7L1858.6 101.7zM1831.7 79.3L1866.2 59.3L1866.2 99.3zM1839.3 76.8L1873.8 56.8L1873.8 96.8zM1846.9 74.3L1881.4 54.3L1881.4 94.3zM1854.5 71.9L1889 51.9L1889 91.9zM1862.1 69.4L1896.6 49.4L1896.6 89.4zM1869.7 66.9L1904.2 46.9L1904.2 86.9zM1877.3 64.5L1911.8 44.5L1911.8 84.5zM1884.9 62L1919.4 42L1919.4 82zM1892.5 59.5L1927 39.5L1927 79.5zM1900.2 57.1L1934.7 37.1L1934.7 77.1zM1907.8 54.6L1942.3 34.6L1942.3 74.6zM1915.4 52.1L1949.9 32.1L1949.9 72.1zM1922 50L1956.5 30L1956.5 70z"/>
</g>
<g font-size="58" fill="#000">
<text x="190" y="1423.5" text-anchor="end">0</text>
<text x="190" y="1179.1" text-anchor="end">0.2</text>
<text x="190" y="934.7" text-anchor="end">0.4</text>
<text x="190" y="690.3" text-anchor="end">0.6</text>
<text x="190" y="445.9" text-anchor="end">0.8</text>
<text x="190" y="201.5" text-anchor="end">1</text>
<text x="235.5" y="1497" text-anchor="middle">4</text>
<text x="478.1" y="1497" text-anchor="middle">6</text>
<text x="720.6" y="1497" text-anchor="middle">8</text>
<text x="963.2" y="1497" text-anchor="middle">10</text>
<text x="1205.8" y="1497" text-anchor="middle">12</text>
<text x="1448.4" y="1497" text-anchor="middle">14</text>
<text x="1690.9" y="1497" text-anchor="middle">16</text>
<text x="1933.5" y="1497" text-anchor="middle">18</text>
</g>
<text x="1083.8" y="1604" font-size="72.3" text-anchor="middle">T (K)</text>
<text transform="translate(80,720.5) rotate(-90)" font-size="71" text-anchor="middle">R(T)/R(T=15K)</text>
<g fill="#000"><rect x="1355" y="773" width="513" height="3"/><rect x="1355" y="1298" width="513" height="4"/><rect x="1355" y="773" width="4" height="529"/><rect x="1865" y="773" width="3" height="529"/></g>
<line x1="1366.5" y1="822.3" x2="1523.5" y2="822.3" stroke="#000000" stroke-width="3" stroke-linecap="round"/>
<path fill="#000000" d="M1430 807.3h30v30h-30z"/>
<text x="1543" y="845.9" font-size="71" fill="#000">R(300nm)</text>
<line x1="1366.5" y1="908.2" x2="1523.5" y2="908.2" stroke="#FF0000" stroke-width="3" stroke-linecap="round"/>
<circle cx="1444.5" cy="908.2" r="16.5" fill="#FF0000"/>
<text x="1543" y="931.8" font-size="71" fill="#000">R(235nm)</text>
<line x1="1366.5" y1="994.1" x2="1523.5" y2="994.1" stroke="#0000FF" stroke-width="3" stroke-linecap="round"/>
<path fill="#0000FF" d="M1445 970.4L1465.5 1005.9L1424.5 1005.9z"/>
<text x="1543" y="1017.7" font-size="71" fill="#000">R(125nm)</text>
<line x1="1366.5" y1="1080" x2="1523.5" y2="1080" stroke="#FF00FF" stroke-width="3" stroke-linecap="round"/>
<path fill="#FF00FF" d="M1445 1103.7L1465.5 1068.2L1424.5 1068.2z"/>
<text x="1543" y="1103.6" font-size="71" fill="#000">R(40nm)</text>
<line x1="1366.5" y1="1165.9" x2="1523.5" y2="1165.9" stroke="#008000" stroke-width="3" stroke-linecap="round"/>
<path fill="#008000" d="M1424.3 1165.9L1445 1143.9L1465.7 1165.9L1445 1187.9z"/>
<text x="1543" y="1189.5" font-size="71" fill="#000">R(56nm)</text>
<line x1="1366.5" y1="1251.8" x2="1523.5" y2="1251.8" stroke="#000080" stroke-width="3" stroke-linecap="round"/>
<path fill="#000080" d="M1422 1251.8L1456.5 1231.8L1456.5 1271.8z"/>
<text x="1543" y="1275.4" font-size="71" fill="#000">unknown</text>
</svg></body></html>
